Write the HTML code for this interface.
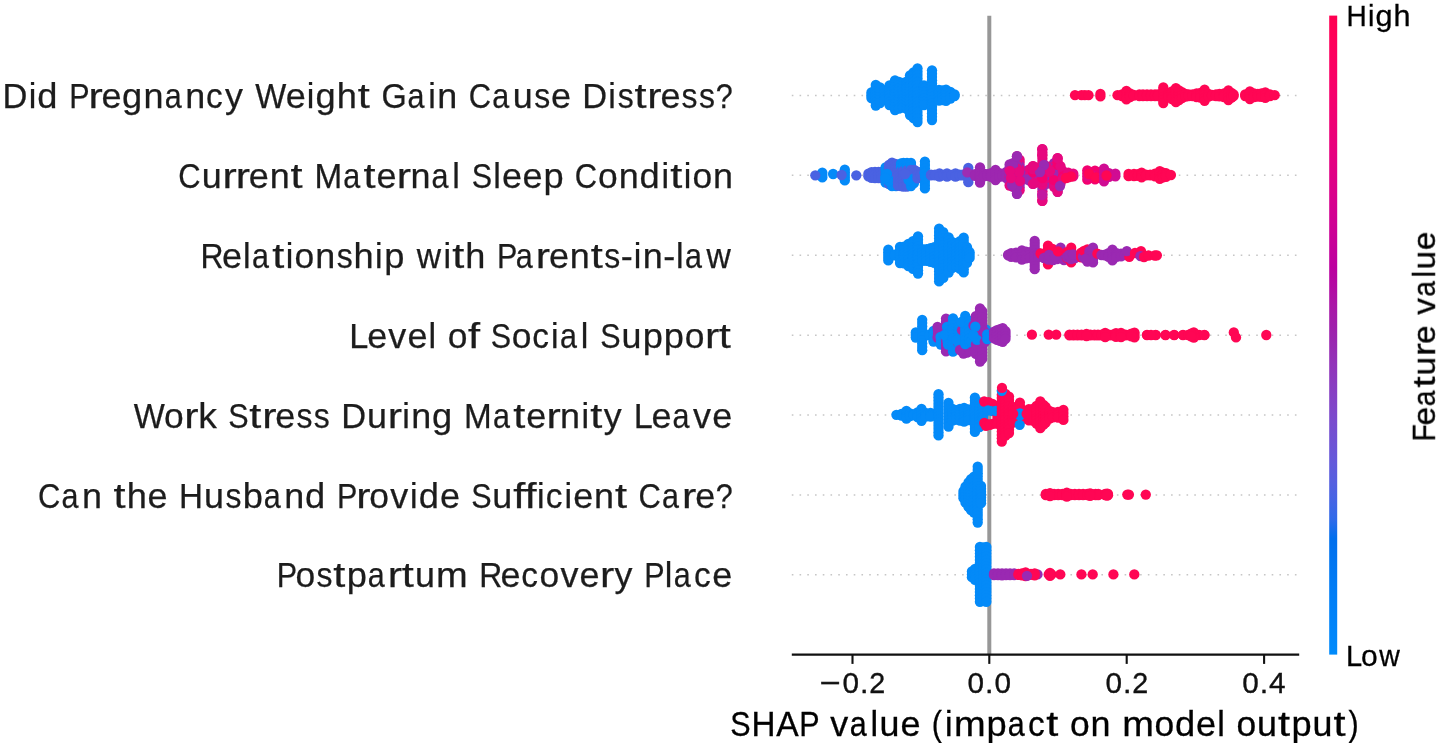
<!DOCTYPE html>
<html><head><meta charset="utf-8"><title>SHAP summary plot</title>
<style>
html,body{margin:0;padding:0;background:#fff;}
body{width:1441px;height:749px;overflow:hidden;font-family:"Liberation Sans",sans-serif;}
svg{display:block;}
svg text{font-family:"Liberation Sans",sans-serif;}
</style></head><body>
<svg width="1441" height="749" viewBox="0 0 1441 749">
<defs><linearGradient id="cb" x1="0" y1="0" x2="0" y2="1"><stop offset="0.0000" stop-color="#ff0051"/><stop offset="0.0303" stop-color="#ff0058"/><stop offset="0.0606" stop-color="#fd005f"/><stop offset="0.0909" stop-color="#fa0065"/><stop offset="0.1212" stop-color="#f6006c"/><stop offset="0.1515" stop-color="#f10072"/><stop offset="0.1818" stop-color="#ec0078"/><stop offset="0.2121" stop-color="#e7007e"/><stop offset="0.2424" stop-color="#e10084"/><stop offset="0.2727" stop-color="#db008a"/><stop offset="0.3030" stop-color="#d40090"/><stop offset="0.3333" stop-color="#cd0095"/><stop offset="0.3636" stop-color="#c5009a"/><stop offset="0.3939" stop-color="#bc009f"/><stop offset="0.4242" stop-color="#b30aa3"/><stop offset="0.4545" stop-color="#aa17a7"/><stop offset="0.4848" stop-color="#a01fab"/><stop offset="0.5152" stop-color="#9829b1"/><stop offset="0.5455" stop-color="#9233b9"/><stop offset="0.5758" stop-color="#8a3cc0"/><stop offset="0.6061" stop-color="#8244c7"/><stop offset="0.6364" stop-color="#794cce"/><stop offset="0.6667" stop-color="#6f52d4"/><stop offset="0.6970" stop-color="#6459da"/><stop offset="0.7273" stop-color="#575fdf"/><stop offset="0.7576" stop-color="#4664e4"/><stop offset="0.7879" stop-color="#306ae9"/><stop offset="0.8182" stop-color="#006fed"/><stop offset="0.8485" stop-color="#0074f0"/><stop offset="0.8788" stop-color="#0079f3"/><stop offset="0.9091" stop-color="#007ef6"/><stop offset="0.9394" stop-color="#0082f8"/><stop offset="0.9697" stop-color="#0086fa"/><stop offset="1.0000" stop-color="#008bfb"/></linearGradient></defs>
<rect width="1441" height="749" fill="#fff"/>
<g stroke="#c6c6c6" stroke-width="1.5" stroke-dasharray="1.6 6.14" fill="none"><line x1="791.8" x2="1298.5" y1="95.5" y2="95.5"/><line x1="791.8" x2="1298.5" y1="175.3" y2="175.3"/><line x1="791.8" x2="1298.5" y1="255.3" y2="255.3"/><line x1="791.8" x2="1298.5" y1="335.3" y2="335.3"/><line x1="791.8" x2="1298.5" y1="415.1" y2="415.1"/><line x1="791.8" x2="1298.5" y1="494.9" y2="494.9"/><line x1="791.8" x2="1298.5" y1="574.7" y2="574.7"/></g>
<line x1="989.3" x2="989.3" y1="15.8" y2="654.6" stroke="#979797" stroke-width="4"/>
<g id="dots">
<circle cx="871.4" cy="92.4" r="5.15" fill="#048af8"/>
<circle cx="871.4" cy="95.2" r="5.15" fill="#048af8"/>
<circle cx="871.4" cy="98.0" r="5.15" fill="#048af8"/>
<circle cx="875.8" cy="84.9" r="5.15" fill="#048af8"/>
<circle cx="875.8" cy="87.8" r="5.15" fill="#048af8"/>
<circle cx="875.8" cy="90.8" r="5.15" fill="#048af8"/>
<circle cx="875.8" cy="93.7" r="5.15" fill="#048af8"/>
<circle cx="875.8" cy="96.7" r="5.15" fill="#048af8"/>
<circle cx="875.8" cy="99.6" r="5.15" fill="#048af8"/>
<circle cx="875.8" cy="102.6" r="5.15" fill="#048af8"/>
<circle cx="875.8" cy="105.5" r="5.15" fill="#048af8"/>
<circle cx="880.0" cy="87.4" r="5.15" fill="#048af8"/>
<circle cx="880.0" cy="90.5" r="5.15" fill="#048af8"/>
<circle cx="880.0" cy="93.6" r="5.15" fill="#048af8"/>
<circle cx="880.0" cy="96.8" r="5.15" fill="#048af8"/>
<circle cx="880.0" cy="99.9" r="5.15" fill="#048af8"/>
<circle cx="880.0" cy="103.0" r="5.15" fill="#048af8"/>
<circle cx="884.3" cy="90.4" r="5.15" fill="#048af8"/>
<circle cx="884.3" cy="93.6" r="5.15" fill="#048af8"/>
<circle cx="884.3" cy="96.8" r="5.15" fill="#048af8"/>
<circle cx="884.3" cy="100.0" r="5.15" fill="#048af8"/>
<circle cx="889.5" cy="85.4" r="5.15" fill="#048af8"/>
<circle cx="889.5" cy="88.6" r="5.15" fill="#048af8"/>
<circle cx="889.5" cy="91.9" r="5.15" fill="#048af8"/>
<circle cx="889.5" cy="95.2" r="5.15" fill="#048af8"/>
<circle cx="889.5" cy="98.5" r="5.15" fill="#048af8"/>
<circle cx="889.5" cy="101.8" r="5.15" fill="#048af8"/>
<circle cx="889.5" cy="105.0" r="5.15" fill="#048af8"/>
<circle cx="895.0" cy="80.4" r="5.15" fill="#048af8"/>
<circle cx="895.0" cy="83.7" r="5.15" fill="#048af8"/>
<circle cx="895.0" cy="87.0" r="5.15" fill="#048af8"/>
<circle cx="895.0" cy="90.2" r="5.15" fill="#048af8"/>
<circle cx="895.0" cy="93.5" r="5.15" fill="#048af8"/>
<circle cx="895.0" cy="96.9" r="5.15" fill="#048af8"/>
<circle cx="895.0" cy="100.2" r="5.15" fill="#048af8"/>
<circle cx="895.0" cy="103.5" r="5.15" fill="#048af8"/>
<circle cx="895.0" cy="106.8" r="5.15" fill="#048af8"/>
<circle cx="895.0" cy="110.1" r="5.15" fill="#048af8"/>
<circle cx="899.0" cy="81.9" r="5.15" fill="#048af8"/>
<circle cx="899.0" cy="85.2" r="5.15" fill="#048af8"/>
<circle cx="899.0" cy="88.5" r="5.15" fill="#048af8"/>
<circle cx="899.0" cy="91.9" r="5.15" fill="#048af8"/>
<circle cx="899.0" cy="95.2" r="5.15" fill="#048af8"/>
<circle cx="899.0" cy="98.5" r="5.15" fill="#048af8"/>
<circle cx="899.0" cy="101.9" r="5.15" fill="#048af8"/>
<circle cx="899.0" cy="105.2" r="5.15" fill="#048af8"/>
<circle cx="899.0" cy="108.5" r="5.15" fill="#048af8"/>
<circle cx="903.0" cy="82.9" r="5.15" fill="#048af8"/>
<circle cx="903.0" cy="85.9" r="5.15" fill="#048af8"/>
<circle cx="903.0" cy="89.0" r="5.15" fill="#048af8"/>
<circle cx="903.0" cy="92.1" r="5.15" fill="#048af8"/>
<circle cx="903.0" cy="95.2" r="5.15" fill="#048af8"/>
<circle cx="903.0" cy="98.3" r="5.15" fill="#048af8"/>
<circle cx="903.0" cy="101.4" r="5.15" fill="#048af8"/>
<circle cx="903.0" cy="104.5" r="5.15" fill="#048af8"/>
<circle cx="903.0" cy="107.5" r="5.15" fill="#048af8"/>
<circle cx="907.0" cy="81.4" r="5.15" fill="#048af8"/>
<circle cx="907.0" cy="84.4" r="5.15" fill="#048af8"/>
<circle cx="907.0" cy="87.5" r="5.15" fill="#048af8"/>
<circle cx="907.0" cy="90.6" r="5.15" fill="#048af8"/>
<circle cx="907.0" cy="93.7" r="5.15" fill="#048af8"/>
<circle cx="907.0" cy="96.7" r="5.15" fill="#048af8"/>
<circle cx="907.0" cy="99.8" r="5.15" fill="#048af8"/>
<circle cx="907.0" cy="102.9" r="5.15" fill="#048af8"/>
<circle cx="907.0" cy="106.0" r="5.15" fill="#048af8"/>
<circle cx="907.0" cy="109.0" r="5.15" fill="#048af8"/>
<circle cx="910.0" cy="75.3" r="5.15" fill="#048af8"/>
<circle cx="910.0" cy="78.7" r="5.15" fill="#048af8"/>
<circle cx="910.0" cy="82.0" r="5.15" fill="#048af8"/>
<circle cx="910.0" cy="85.3" r="5.15" fill="#048af8"/>
<circle cx="910.0" cy="88.6" r="5.15" fill="#048af8"/>
<circle cx="910.0" cy="91.9" r="5.15" fill="#048af8"/>
<circle cx="910.0" cy="95.2" r="5.15" fill="#048af8"/>
<circle cx="910.0" cy="98.5" r="5.15" fill="#048af8"/>
<circle cx="910.0" cy="101.8" r="5.15" fill="#048af8"/>
<circle cx="910.0" cy="105.1" r="5.15" fill="#048af8"/>
<circle cx="910.0" cy="108.4" r="5.15" fill="#048af8"/>
<circle cx="910.0" cy="111.7" r="5.15" fill="#048af8"/>
<circle cx="910.0" cy="115.1" r="5.15" fill="#048af8"/>
<circle cx="913.5" cy="72.3" r="5.15" fill="#048af8"/>
<circle cx="913.5" cy="75.6" r="5.15" fill="#048af8"/>
<circle cx="913.5" cy="78.9" r="5.15" fill="#048af8"/>
<circle cx="913.5" cy="82.1" r="5.15" fill="#048af8"/>
<circle cx="913.5" cy="85.4" r="5.15" fill="#048af8"/>
<circle cx="913.5" cy="88.7" r="5.15" fill="#048af8"/>
<circle cx="913.5" cy="91.9" r="5.15" fill="#048af8"/>
<circle cx="913.5" cy="95.2" r="5.15" fill="#048af8"/>
<circle cx="913.5" cy="98.5" r="5.15" fill="#048af8"/>
<circle cx="913.5" cy="101.7" r="5.15" fill="#048af8"/>
<circle cx="913.5" cy="105.0" r="5.15" fill="#048af8"/>
<circle cx="913.5" cy="108.3" r="5.15" fill="#048af8"/>
<circle cx="913.5" cy="111.5" r="5.15" fill="#048af8"/>
<circle cx="913.5" cy="114.8" r="5.15" fill="#048af8"/>
<circle cx="913.5" cy="118.1" r="5.15" fill="#048af8"/>
<circle cx="917.5" cy="68.3" r="5.15" fill="#048af8"/>
<circle cx="917.5" cy="71.7" r="5.15" fill="#048af8"/>
<circle cx="917.5" cy="75.1" r="5.15" fill="#048af8"/>
<circle cx="917.5" cy="78.4" r="5.15" fill="#048af8"/>
<circle cx="917.5" cy="81.8" r="5.15" fill="#048af8"/>
<circle cx="917.5" cy="85.1" r="5.15" fill="#048af8"/>
<circle cx="917.5" cy="88.5" r="5.15" fill="#048af8"/>
<circle cx="917.5" cy="91.8" r="5.15" fill="#048af8"/>
<circle cx="917.5" cy="95.2" r="5.15" fill="#048af8"/>
<circle cx="917.5" cy="98.6" r="5.15" fill="#048af8"/>
<circle cx="917.5" cy="101.9" r="5.15" fill="#048af8"/>
<circle cx="917.5" cy="105.3" r="5.15" fill="#048af8"/>
<circle cx="917.5" cy="108.6" r="5.15" fill="#048af8"/>
<circle cx="917.5" cy="112.0" r="5.15" fill="#048af8"/>
<circle cx="917.5" cy="115.3" r="5.15" fill="#048af8"/>
<circle cx="917.5" cy="118.7" r="5.15" fill="#048af8"/>
<circle cx="917.5" cy="122.1" r="5.15" fill="#048af8"/>
<circle cx="924.0" cy="85.4" r="5.15" fill="#048af8"/>
<circle cx="924.0" cy="88.6" r="5.15" fill="#048af8"/>
<circle cx="924.0" cy="91.9" r="5.15" fill="#048af8"/>
<circle cx="924.0" cy="95.2" r="5.15" fill="#048af8"/>
<circle cx="924.0" cy="98.5" r="5.15" fill="#048af8"/>
<circle cx="924.0" cy="101.8" r="5.15" fill="#048af8"/>
<circle cx="924.0" cy="105.0" r="5.15" fill="#048af8"/>
<circle cx="932.0" cy="70.3" r="5.15" fill="#048af8"/>
<circle cx="932.0" cy="73.7" r="5.15" fill="#048af8"/>
<circle cx="932.0" cy="77.0" r="5.15" fill="#048af8"/>
<circle cx="932.0" cy="80.3" r="5.15" fill="#048af8"/>
<circle cx="932.0" cy="83.6" r="5.15" fill="#048af8"/>
<circle cx="932.0" cy="86.9" r="5.15" fill="#048af8"/>
<circle cx="932.0" cy="90.2" r="5.15" fill="#048af8"/>
<circle cx="932.0" cy="93.5" r="5.15" fill="#048af8"/>
<circle cx="932.0" cy="96.9" r="5.15" fill="#048af8"/>
<circle cx="932.0" cy="100.2" r="5.15" fill="#048af8"/>
<circle cx="932.0" cy="103.5" r="5.15" fill="#048af8"/>
<circle cx="932.0" cy="106.8" r="5.15" fill="#048af8"/>
<circle cx="932.0" cy="110.1" r="5.15" fill="#048af8"/>
<circle cx="932.0" cy="113.4" r="5.15" fill="#048af8"/>
<circle cx="932.0" cy="116.7" r="5.15" fill="#048af8"/>
<circle cx="932.0" cy="120.1" r="5.15" fill="#048af8"/>
<circle cx="939.0" cy="89.9" r="5.15" fill="#048af8"/>
<circle cx="939.0" cy="92.5" r="5.15" fill="#048af8"/>
<circle cx="939.0" cy="95.2" r="5.15" fill="#048af8"/>
<circle cx="939.0" cy="97.9" r="5.15" fill="#048af8"/>
<circle cx="939.0" cy="100.5" r="5.15" fill="#048af8"/>
<circle cx="942.5" cy="90.4" r="5.15" fill="#048af8"/>
<circle cx="942.5" cy="93.6" r="5.15" fill="#048af8"/>
<circle cx="942.5" cy="96.8" r="5.15" fill="#048af8"/>
<circle cx="942.5" cy="100.0" r="5.15" fill="#048af8"/>
<circle cx="946.0" cy="89.7" r="5.15" fill="#048af8"/>
<circle cx="946.0" cy="92.4" r="5.15" fill="#048af8"/>
<circle cx="946.0" cy="95.2" r="5.15" fill="#048af8"/>
<circle cx="946.0" cy="98.0" r="5.15" fill="#048af8"/>
<circle cx="946.0" cy="100.8" r="5.15" fill="#048af8"/>
<circle cx="950.4" cy="91.9" r="5.15" fill="#048af8"/>
<circle cx="950.4" cy="95.2" r="5.15" fill="#048af8"/>
<circle cx="950.4" cy="98.5" r="5.15" fill="#048af8"/>
<circle cx="954.6" cy="94.4" r="5.15" fill="#048af8"/>
<circle cx="954.6" cy="96.0" r="5.15" fill="#048af8"/>
<circle cx="1075.0" cy="95.2" r="5.15" fill="#ff0654"/>
<circle cx="1081.5" cy="95.2" r="5.15" fill="#ff0654"/>
<circle cx="1084.8" cy="95.2" r="5.15" fill="#ff0654"/>
<circle cx="1088.5" cy="95.2" r="5.15" fill="#ff0654"/>
<circle cx="1100.4" cy="94.0" r="5.15" fill="#ff0654"/>
<circle cx="1100.4" cy="96.4" r="5.15" fill="#ff0654"/>
<circle cx="1117.5" cy="95.2" r="5.15" fill="#ff0654"/>
<circle cx="1122.0" cy="94.4" r="5.15" fill="#ff0654"/>
<circle cx="1122.0" cy="96.0" r="5.15" fill="#ff0654"/>
<circle cx="1126.4" cy="91.0" r="5.15" fill="#ff0654"/>
<circle cx="1126.4" cy="93.8" r="5.15" fill="#ff0654"/>
<circle cx="1126.4" cy="96.6" r="5.15" fill="#ff0654"/>
<circle cx="1126.4" cy="99.4" r="5.15" fill="#ff0654"/>
<circle cx="1130.0" cy="93.4" r="5.15" fill="#ff0654"/>
<circle cx="1130.0" cy="95.2" r="5.15" fill="#ff0654"/>
<circle cx="1130.0" cy="97.0" r="5.15" fill="#ff0654"/>
<circle cx="1133.8" cy="94.8" r="5.15" fill="#ff0654"/>
<circle cx="1133.8" cy="95.7" r="5.15" fill="#ff0654"/>
<circle cx="1139.4" cy="94.4" r="5.15" fill="#ff0654"/>
<circle cx="1139.4" cy="96.0" r="5.15" fill="#ff0654"/>
<circle cx="1143.0" cy="94.4" r="5.15" fill="#ff0654"/>
<circle cx="1143.0" cy="96.0" r="5.15" fill="#ff0654"/>
<circle cx="1147.0" cy="94.4" r="5.15" fill="#ff0654"/>
<circle cx="1147.0" cy="96.0" r="5.15" fill="#ff0654"/>
<circle cx="1151.0" cy="94.4" r="5.15" fill="#ff0654"/>
<circle cx="1151.0" cy="96.0" r="5.15" fill="#ff0654"/>
<circle cx="1155.0" cy="94.4" r="5.15" fill="#ff0654"/>
<circle cx="1155.0" cy="96.0" r="5.15" fill="#ff0654"/>
<circle cx="1158.0" cy="94.4" r="5.15" fill="#ff0654"/>
<circle cx="1158.0" cy="96.0" r="5.15" fill="#ff0654"/>
<circle cx="1163.3" cy="87.4" r="5.15" fill="#ff0654"/>
<circle cx="1163.3" cy="90.5" r="5.15" fill="#ff0654"/>
<circle cx="1163.3" cy="93.6" r="5.15" fill="#ff0654"/>
<circle cx="1163.3" cy="96.8" r="5.15" fill="#ff0654"/>
<circle cx="1163.3" cy="99.9" r="5.15" fill="#ff0654"/>
<circle cx="1163.3" cy="103.0" r="5.15" fill="#ff0654"/>
<circle cx="1168.4" cy="93.4" r="5.15" fill="#ff0654"/>
<circle cx="1168.4" cy="95.2" r="5.15" fill="#ff0654"/>
<circle cx="1168.4" cy="97.0" r="5.15" fill="#ff0654"/>
<circle cx="1172.0" cy="91.4" r="5.15" fill="#ff0654"/>
<circle cx="1172.0" cy="93.9" r="5.15" fill="#ff0654"/>
<circle cx="1172.0" cy="96.5" r="5.15" fill="#ff0654"/>
<circle cx="1172.0" cy="99.0" r="5.15" fill="#ff0654"/>
<circle cx="1175.9" cy="88.2" r="5.15" fill="#ff0654"/>
<circle cx="1175.9" cy="91.0" r="5.15" fill="#ff0654"/>
<circle cx="1175.9" cy="93.8" r="5.15" fill="#ff0654"/>
<circle cx="1175.9" cy="96.6" r="5.15" fill="#ff0654"/>
<circle cx="1175.9" cy="99.4" r="5.15" fill="#ff0654"/>
<circle cx="1175.9" cy="102.2" r="5.15" fill="#ff0654"/>
<circle cx="1179.0" cy="90.4" r="5.15" fill="#ff0654"/>
<circle cx="1179.0" cy="93.6" r="5.15" fill="#ff0654"/>
<circle cx="1179.0" cy="96.8" r="5.15" fill="#ff0654"/>
<circle cx="1179.0" cy="100.0" r="5.15" fill="#ff0654"/>
<circle cx="1182.0" cy="92.2" r="5.15" fill="#ff0654"/>
<circle cx="1182.0" cy="95.2" r="5.15" fill="#ff0654"/>
<circle cx="1182.0" cy="98.2" r="5.15" fill="#ff0654"/>
<circle cx="1185.5" cy="93.9" r="5.15" fill="#ff0654"/>
<circle cx="1185.5" cy="96.5" r="5.15" fill="#ff0654"/>
<circle cx="1188.7" cy="94.4" r="5.15" fill="#ff0654"/>
<circle cx="1188.7" cy="96.0" r="5.15" fill="#ff0654"/>
<circle cx="1192.5" cy="94.4" r="5.15" fill="#ff0654"/>
<circle cx="1192.5" cy="96.0" r="5.15" fill="#ff0654"/>
<circle cx="1196.6" cy="93.4" r="5.15" fill="#ff0654"/>
<circle cx="1196.6" cy="95.2" r="5.15" fill="#ff0654"/>
<circle cx="1196.6" cy="97.0" r="5.15" fill="#ff0654"/>
<circle cx="1200.5" cy="92.9" r="5.15" fill="#ff0654"/>
<circle cx="1200.5" cy="95.2" r="5.15" fill="#ff0654"/>
<circle cx="1200.5" cy="97.5" r="5.15" fill="#ff0654"/>
<circle cx="1204.6" cy="89.7" r="5.15" fill="#ff0654"/>
<circle cx="1204.6" cy="92.4" r="5.15" fill="#ff0654"/>
<circle cx="1204.6" cy="95.2" r="5.15" fill="#ff0654"/>
<circle cx="1204.6" cy="98.0" r="5.15" fill="#ff0654"/>
<circle cx="1204.6" cy="100.8" r="5.15" fill="#ff0654"/>
<circle cx="1208.5" cy="93.9" r="5.15" fill="#ff0654"/>
<circle cx="1208.5" cy="96.5" r="5.15" fill="#ff0654"/>
<circle cx="1212.0" cy="94.8" r="5.15" fill="#ff0654"/>
<circle cx="1212.0" cy="95.7" r="5.15" fill="#ff0654"/>
<circle cx="1216.0" cy="94.4" r="5.15" fill="#ff0654"/>
<circle cx="1216.0" cy="96.0" r="5.15" fill="#ff0654"/>
<circle cx="1219.5" cy="94.0" r="5.15" fill="#ff0654"/>
<circle cx="1219.5" cy="96.4" r="5.15" fill="#ff0654"/>
<circle cx="1224.0" cy="93.4" r="5.15" fill="#ff0654"/>
<circle cx="1224.0" cy="95.2" r="5.15" fill="#ff0654"/>
<circle cx="1224.0" cy="97.0" r="5.15" fill="#ff0654"/>
<circle cx="1228.4" cy="90.4" r="5.15" fill="#ff0654"/>
<circle cx="1228.4" cy="93.6" r="5.15" fill="#ff0654"/>
<circle cx="1228.4" cy="96.8" r="5.15" fill="#ff0654"/>
<circle cx="1228.4" cy="100.0" r="5.15" fill="#ff0654"/>
<circle cx="1231.5" cy="92.9" r="5.15" fill="#ff0654"/>
<circle cx="1231.5" cy="95.2" r="5.15" fill="#ff0654"/>
<circle cx="1231.5" cy="97.5" r="5.15" fill="#ff0654"/>
<circle cx="1233.6" cy="94.4" r="5.15" fill="#ff0654"/>
<circle cx="1233.6" cy="96.0" r="5.15" fill="#ff0654"/>
<circle cx="1245.2" cy="94.4" r="5.15" fill="#ff0654"/>
<circle cx="1245.2" cy="96.0" r="5.15" fill="#ff0654"/>
<circle cx="1249.9" cy="91.4" r="5.15" fill="#ff0654"/>
<circle cx="1249.9" cy="93.9" r="5.15" fill="#ff0654"/>
<circle cx="1249.9" cy="96.5" r="5.15" fill="#ff0654"/>
<circle cx="1249.9" cy="99.0" r="5.15" fill="#ff0654"/>
<circle cx="1254.0" cy="93.4" r="5.15" fill="#ff0654"/>
<circle cx="1254.0" cy="95.2" r="5.15" fill="#ff0654"/>
<circle cx="1254.0" cy="97.0" r="5.15" fill="#ff0654"/>
<circle cx="1257.9" cy="93.9" r="5.15" fill="#ff0654"/>
<circle cx="1257.9" cy="96.5" r="5.15" fill="#ff0654"/>
<circle cx="1261.5" cy="93.5" r="5.15" fill="#ff0654"/>
<circle cx="1261.5" cy="96.9" r="5.15" fill="#ff0654"/>
<circle cx="1265.3" cy="92.5" r="5.15" fill="#ff0654"/>
<circle cx="1265.3" cy="95.2" r="5.15" fill="#ff0654"/>
<circle cx="1265.3" cy="97.9" r="5.15" fill="#ff0654"/>
<circle cx="1270.0" cy="94.4" r="5.15" fill="#ff0654"/>
<circle cx="1270.0" cy="96.0" r="5.15" fill="#ff0654"/>
<circle cx="1274.7" cy="95.2" r="5.15" fill="#ff0654"/>
<circle cx="822.3" cy="172.6" r="5.15" fill="#048af8"/>
<circle cx="822.3" cy="175.0" r="5.15" fill="#048af8"/>
<circle cx="822.3" cy="177.4" r="5.15" fill="#048af8"/>
<circle cx="844.8" cy="169.6" r="5.15" fill="#048af8"/>
<circle cx="844.8" cy="172.3" r="5.15" fill="#048af8"/>
<circle cx="844.8" cy="175.0" r="5.15" fill="#048af8"/>
<circle cx="844.8" cy="177.7" r="5.15" fill="#048af8"/>
<circle cx="844.8" cy="180.4" r="5.15" fill="#048af8"/>
<circle cx="833.1" cy="174.0" r="5.15" fill="#048af8"/>
<circle cx="815.3" cy="175.3" r="5.15" fill="#4a62e2"/>
<circle cx="841.6" cy="175.0" r="5.15" fill="#4a62e2"/>
<circle cx="856.3" cy="175.3" r="5.15" fill="#4a62e2"/>
<circle cx="868.4" cy="173.7" r="5.15" fill="#4a62e2"/>
<circle cx="868.4" cy="176.3" r="5.15" fill="#4a62e2"/>
<circle cx="871.5" cy="172.2" r="5.15" fill="#4a62e2"/>
<circle cx="871.5" cy="175.0" r="5.15" fill="#4a62e2"/>
<circle cx="871.5" cy="177.8" r="5.15" fill="#4a62e2"/>
<circle cx="875.0" cy="171.9" r="5.15" fill="#4a62e2"/>
<circle cx="875.0" cy="175.0" r="5.15" fill="#4a62e2"/>
<circle cx="875.0" cy="178.1" r="5.15" fill="#4a62e2"/>
<circle cx="878.5" cy="171.9" r="5.15" fill="#4a62e2"/>
<circle cx="878.5" cy="175.0" r="5.15" fill="#4a62e2"/>
<circle cx="878.5" cy="178.1" r="5.15" fill="#4a62e2"/>
<circle cx="881.5" cy="171.9" r="5.15" fill="#4a62e2"/>
<circle cx="881.5" cy="175.0" r="5.15" fill="#4a62e2"/>
<circle cx="881.5" cy="178.1" r="5.15" fill="#4a62e2"/>
<circle cx="885.6" cy="167.3" r="5.15" fill="#048af8"/>
<circle cx="885.6" cy="170.4" r="5.15" fill="#048af8"/>
<circle cx="885.6" cy="173.5" r="5.15" fill="#048af8"/>
<circle cx="885.6" cy="176.5" r="5.15" fill="#048af8"/>
<circle cx="885.6" cy="179.6" r="5.15" fill="#048af8"/>
<circle cx="885.6" cy="182.7" r="5.15" fill="#048af8"/>
<circle cx="889.0" cy="165.0" r="5.15" fill="#4a62e2"/>
<circle cx="889.0" cy="168.2" r="5.15" fill="#4a62e2"/>
<circle cx="889.0" cy="171.3" r="5.15" fill="#4a62e2"/>
<circle cx="889.0" cy="174.5" r="5.15" fill="#4a62e2"/>
<circle cx="889.0" cy="177.7" r="5.15" fill="#4a62e2"/>
<circle cx="889.0" cy="180.8" r="5.15" fill="#4a62e2"/>
<circle cx="889.0" cy="184.0" r="5.15" fill="#4a62e2"/>
<circle cx="892.0" cy="162.6" r="5.15" fill="#4a62e2"/>
<circle cx="892.0" cy="165.9" r="5.15" fill="#4a62e2"/>
<circle cx="892.0" cy="169.2" r="5.15" fill="#4a62e2"/>
<circle cx="892.0" cy="172.4" r="5.15" fill="#4a62e2"/>
<circle cx="892.0" cy="175.7" r="5.15" fill="#4a62e2"/>
<circle cx="892.0" cy="179.0" r="5.15" fill="#4a62e2"/>
<circle cx="892.0" cy="181.0" r="5.15" fill="#048af8"/>
<circle cx="892.0" cy="183.5" r="5.15" fill="#048af8"/>
<circle cx="892.0" cy="186.0" r="5.15" fill="#048af8"/>
<circle cx="895.5" cy="164.0" r="5.15" fill="#4a62e2"/>
<circle cx="895.5" cy="166.8" r="5.15" fill="#4a62e2"/>
<circle cx="895.5" cy="169.6" r="5.15" fill="#4a62e2"/>
<circle cx="895.5" cy="172.4" r="5.15" fill="#4a62e2"/>
<circle cx="895.5" cy="175.2" r="5.15" fill="#4a62e2"/>
<circle cx="895.5" cy="178.0" r="5.15" fill="#4a62e2"/>
<circle cx="896.0" cy="180.0" r="5.15" fill="#048af8"/>
<circle cx="896.0" cy="183.0" r="5.15" fill="#048af8"/>
<circle cx="896.0" cy="186.0" r="5.15" fill="#048af8"/>
<circle cx="888.5" cy="181.0" r="5.15" fill="#048af8"/>
<circle cx="887.0" cy="174.0" r="5.15" fill="#048af8"/>
<circle cx="885.2" cy="178.0" r="5.15" fill="#048af8"/>
<circle cx="898.0" cy="169.5" r="5.15" fill="#4a62e2"/>
<circle cx="898.0" cy="172.7" r="5.15" fill="#4a62e2"/>
<circle cx="898.0" cy="175.9" r="5.15" fill="#4a62e2"/>
<circle cx="898.0" cy="179.1" r="5.15" fill="#4a62e2"/>
<circle cx="898.0" cy="182.3" r="5.15" fill="#4a62e2"/>
<circle cx="898.0" cy="185.5" r="5.15" fill="#4a62e2"/>
<circle cx="901.0" cy="163.5" r="5.15" fill="#048af8"/>
<circle cx="901.0" cy="165.8" r="5.15" fill="#048af8"/>
<circle cx="901.0" cy="168.0" r="5.15" fill="#048af8"/>
<circle cx="901.0" cy="171.0" r="5.15" fill="#4a62e2"/>
<circle cx="901.0" cy="174.0" r="5.15" fill="#4a62e2"/>
<circle cx="901.0" cy="177.0" r="5.15" fill="#4a62e2"/>
<circle cx="901.0" cy="180.0" r="5.15" fill="#4a62e2"/>
<circle cx="901.0" cy="183.0" r="5.15" fill="#4a62e2"/>
<circle cx="901.0" cy="186.0" r="5.15" fill="#4a62e2"/>
<circle cx="903.5" cy="163.0" r="5.15" fill="#048af8"/>
<circle cx="903.5" cy="165.5" r="5.15" fill="#048af8"/>
<circle cx="903.5" cy="168.0" r="5.15" fill="#048af8"/>
<circle cx="903.5" cy="171.0" r="5.15" fill="#4a62e2"/>
<circle cx="903.5" cy="174.1" r="5.15" fill="#4a62e2"/>
<circle cx="903.5" cy="177.2" r="5.15" fill="#4a62e2"/>
<circle cx="903.5" cy="180.3" r="5.15" fill="#4a62e2"/>
<circle cx="903.5" cy="183.4" r="5.15" fill="#4a62e2"/>
<circle cx="903.5" cy="186.5" r="5.15" fill="#4a62e2"/>
<circle cx="907.0" cy="163.0" r="5.15" fill="#048af8"/>
<circle cx="907.0" cy="165.2" r="5.15" fill="#048af8"/>
<circle cx="907.0" cy="167.5" r="5.15" fill="#048af8"/>
<circle cx="907.0" cy="170.5" r="5.15" fill="#4a62e2"/>
<circle cx="907.0" cy="173.7" r="5.15" fill="#4a62e2"/>
<circle cx="907.0" cy="176.9" r="5.15" fill="#4a62e2"/>
<circle cx="907.0" cy="180.1" r="5.15" fill="#4a62e2"/>
<circle cx="907.0" cy="183.3" r="5.15" fill="#4a62e2"/>
<circle cx="907.0" cy="186.5" r="5.15" fill="#4a62e2"/>
<circle cx="911.0" cy="163.0" r="5.15" fill="#048af8"/>
<circle cx="911.0" cy="165.0" r="5.15" fill="#048af8"/>
<circle cx="911.0" cy="167.0" r="5.15" fill="#048af8"/>
<circle cx="911.0" cy="170.0" r="5.15" fill="#4a62e2"/>
<circle cx="911.0" cy="173.0" r="5.15" fill="#4a62e2"/>
<circle cx="911.0" cy="176.0" r="5.15" fill="#4a62e2"/>
<circle cx="911.0" cy="178.0" r="5.15" fill="#048af8"/>
<circle cx="911.0" cy="180.7" r="5.15" fill="#048af8"/>
<circle cx="911.0" cy="183.3" r="5.15" fill="#048af8"/>
<circle cx="911.0" cy="186.0" r="5.15" fill="#048af8"/>
<circle cx="914.3" cy="170.0" r="5.15" fill="#4a62e2"/>
<circle cx="914.3" cy="173.2" r="5.15" fill="#4a62e2"/>
<circle cx="914.3" cy="176.5" r="5.15" fill="#4a62e2"/>
<circle cx="914.0" cy="178.5" r="5.15" fill="#048af8"/>
<circle cx="914.0" cy="180.8" r="5.15" fill="#048af8"/>
<circle cx="914.0" cy="183.0" r="5.15" fill="#048af8"/>
<circle cx="908.5" cy="180.0" r="5.15" fill="#048af8"/>
<circle cx="905.0" cy="174.0" r="5.15" fill="#4a62e2"/>
<circle cx="917.5" cy="171.7" r="5.15" fill="#4a62e2"/>
<circle cx="917.5" cy="175.0" r="5.15" fill="#4a62e2"/>
<circle cx="917.5" cy="178.3" r="5.15" fill="#4a62e2"/>
<circle cx="924.9" cy="161.6" r="5.15" fill="#048af8"/>
<circle cx="924.9" cy="164.9" r="5.15" fill="#048af8"/>
<circle cx="924.9" cy="168.3" r="5.15" fill="#048af8"/>
<circle cx="924.9" cy="171.6" r="5.15" fill="#048af8"/>
<circle cx="924.9" cy="175.0" r="5.15" fill="#048af8"/>
<circle cx="924.9" cy="178.4" r="5.15" fill="#048af8"/>
<circle cx="924.9" cy="181.7" r="5.15" fill="#048af8"/>
<circle cx="924.9" cy="185.1" r="5.15" fill="#048af8"/>
<circle cx="924.9" cy="188.4" r="5.15" fill="#048af8"/>
<circle cx="920.8" cy="175.0" r="5.15" fill="#4a62e2"/>
<circle cx="929.0" cy="175.0" r="5.15" fill="#4a62e2"/>
<circle cx="924.5" cy="173.0" r="5.15" fill="#048af8"/>
<circle cx="925.0" cy="177.0" r="5.15" fill="#048af8"/>
<circle cx="931.0" cy="174.7" r="5.15" fill="#4a62e2"/>
<circle cx="931.0" cy="175.3" r="5.15" fill="#4a62e2"/>
<circle cx="935.0" cy="174.7" r="5.15" fill="#4a62e2"/>
<circle cx="935.0" cy="175.3" r="5.15" fill="#4a62e2"/>
<circle cx="939.5" cy="173.3" r="5.15" fill="#4a62e2"/>
<circle cx="939.5" cy="176.7" r="5.15" fill="#4a62e2"/>
<circle cx="943.5" cy="174.8" r="5.15" fill="#4a62e2"/>
<circle cx="943.5" cy="175.2" r="5.15" fill="#4a62e2"/>
<circle cx="947.0" cy="173.3" r="5.15" fill="#4a62e2"/>
<circle cx="947.0" cy="176.7" r="5.15" fill="#4a62e2"/>
<circle cx="951.5" cy="174.8" r="5.15" fill="#4a62e2"/>
<circle cx="951.5" cy="175.2" r="5.15" fill="#4a62e2"/>
<circle cx="955.5" cy="173.3" r="5.15" fill="#4a62e2"/>
<circle cx="955.5" cy="176.7" r="5.15" fill="#4a62e2"/>
<circle cx="959.5" cy="174.7" r="5.15" fill="#4a62e2"/>
<circle cx="959.5" cy="175.3" r="5.15" fill="#4a62e2"/>
<circle cx="962.5" cy="174.7" r="5.15" fill="#4a62e2"/>
<circle cx="962.5" cy="175.3" r="5.15" fill="#4a62e2"/>
<circle cx="968.3" cy="167.8" r="5.15" fill="#4a62e2"/>
<circle cx="968.3" cy="170.7" r="5.15" fill="#4a62e2"/>
<circle cx="968.3" cy="173.6" r="5.15" fill="#4a62e2"/>
<circle cx="968.3" cy="176.4" r="5.15" fill="#4a62e2"/>
<circle cx="968.3" cy="179.3" r="5.15" fill="#4a62e2"/>
<circle cx="968.3" cy="182.2" r="5.15" fill="#4a62e2"/>
<circle cx="967.3" cy="172.4" r="5.15" fill="#9c2db3"/>
<circle cx="975.0" cy="174.2" r="5.15" fill="#9d27b0"/>
<circle cx="975.0" cy="175.8" r="5.15" fill="#9d27b0"/>
<circle cx="980.0" cy="167.3" r="5.15" fill="#9d27b0"/>
<circle cx="980.0" cy="170.4" r="5.15" fill="#9d27b0"/>
<circle cx="980.0" cy="173.5" r="5.15" fill="#9d27b0"/>
<circle cx="980.0" cy="176.5" r="5.15" fill="#9d27b0"/>
<circle cx="980.0" cy="179.6" r="5.15" fill="#9d27b0"/>
<circle cx="980.0" cy="182.7" r="5.15" fill="#9d27b0"/>
<circle cx="984.0" cy="173.7" r="5.15" fill="#9d27b0"/>
<circle cx="984.0" cy="176.3" r="5.15" fill="#9d27b0"/>
<circle cx="987.5" cy="174.2" r="5.15" fill="#9d27b0"/>
<circle cx="987.5" cy="175.8" r="5.15" fill="#9d27b0"/>
<circle cx="991.0" cy="173.2" r="5.15" fill="#9d27b0"/>
<circle cx="991.0" cy="175.0" r="5.15" fill="#9d27b0"/>
<circle cx="991.0" cy="176.8" r="5.15" fill="#9d27b0"/>
<circle cx="995.5" cy="169.8" r="5.15" fill="#9d27b0"/>
<circle cx="995.5" cy="172.4" r="5.15" fill="#9d27b0"/>
<circle cx="995.5" cy="175.0" r="5.15" fill="#9d27b0"/>
<circle cx="995.5" cy="177.6" r="5.15" fill="#9d27b0"/>
<circle cx="995.5" cy="180.2" r="5.15" fill="#9d27b0"/>
<circle cx="999.5" cy="173.2" r="5.15" fill="#9d27b0"/>
<circle cx="999.5" cy="175.0" r="5.15" fill="#9d27b0"/>
<circle cx="999.5" cy="176.8" r="5.15" fill="#9d27b0"/>
<circle cx="1002.5" cy="174.2" r="5.15" fill="#9d27b0"/>
<circle cx="1002.5" cy="175.8" r="5.15" fill="#9d27b0"/>
<circle cx="1006.0" cy="172.2" r="5.15" fill="#9d27b0"/>
<circle cx="1006.0" cy="175.0" r="5.15" fill="#9d27b0"/>
<circle cx="1006.0" cy="177.8" r="5.15" fill="#9d27b0"/>
<circle cx="1017.0" cy="193.8" r="5.15" fill="#9d27b0"/>
<circle cx="1009.6" cy="176.5" r="5.15" fill="#e6087f"/>
<circle cx="1042.4" cy="175.0" r="5.15" fill="#e6087f"/>
<circle cx="1030.0" cy="172.1" r="5.15" fill="#9d27b0"/>
<circle cx="1030.0" cy="177.9" r="5.15" fill="#e6087f"/>
<circle cx="1019.6" cy="181.1" r="5.15" fill="#e6087f"/>
<circle cx="1057.6" cy="191.8" r="5.15" fill="#9d27b0"/>
<circle cx="1019.6" cy="184.2" r="5.15" fill="#9d27b0"/>
<circle cx="1050.0" cy="179.1" r="5.15" fill="#e6087f"/>
<circle cx="1042.4" cy="191.2" r="5.15" fill="#e6087f"/>
<circle cx="1057.6" cy="168.3" r="5.15" fill="#9d27b0"/>
<circle cx="1042.4" cy="152.4" r="5.15" fill="#e6087f"/>
<circle cx="1054.0" cy="173.3" r="5.15" fill="#f30070"/>
<circle cx="1042.4" cy="158.8" r="5.15" fill="#e6087f"/>
<circle cx="1017.0" cy="190.7" r="5.15" fill="#e6087f"/>
<circle cx="1033.0" cy="177.9" r="5.15" fill="#e6087f"/>
<circle cx="1019.6" cy="159.7" r="5.15" fill="#e6087f"/>
<circle cx="1068.3" cy="177.3" r="5.15" fill="#e6087f"/>
<circle cx="1068.3" cy="175.0" r="5.15" fill="#e6087f"/>
<circle cx="1042.4" cy="155.6" r="5.15" fill="#f30070"/>
<circle cx="1060.5" cy="175.0" r="5.15" fill="#f30070"/>
<circle cx="1042.4" cy="171.8" r="5.15" fill="#e6087f"/>
<circle cx="1060.5" cy="172.1" r="5.15" fill="#e6087f"/>
<circle cx="1057.6" cy="158.2" r="5.15" fill="#e6087f"/>
<circle cx="1037.0" cy="170.6" r="5.15" fill="#e6087f"/>
<circle cx="1042.4" cy="187.9" r="5.15" fill="#9d27b0"/>
<circle cx="1013.0" cy="173.3" r="5.15" fill="#9d27b0"/>
<circle cx="1050.0" cy="181.8" r="5.15" fill="#f30070"/>
<circle cx="1019.6" cy="178.1" r="5.15" fill="#9d27b0"/>
<circle cx="1057.6" cy="175.0" r="5.15" fill="#9d27b0"/>
<circle cx="1060.5" cy="169.1" r="5.15" fill="#e6087f"/>
<circle cx="1019.6" cy="162.7" r="5.15" fill="#e6087f"/>
<circle cx="1017.0" cy="159.3" r="5.15" fill="#e6087f"/>
<circle cx="1054.0" cy="163.2" r="5.15" fill="#9d27b0"/>
<circle cx="1009.6" cy="167.5" r="5.15" fill="#9d27b0"/>
<circle cx="1033.0" cy="175.0" r="5.15" fill="#e6087f"/>
<circle cx="1019.6" cy="165.8" r="5.15" fill="#9d27b0"/>
<circle cx="1046.5" cy="183.8" r="5.15" fill="#9d27b0"/>
<circle cx="1026.7" cy="176.5" r="5.15" fill="#9a29b2"/>
<circle cx="1037.0" cy="173.5" r="5.15" fill="#9d27b0"/>
<circle cx="1017.0" cy="184.4" r="5.15" fill="#9d27b0"/>
<circle cx="1046.5" cy="180.9" r="5.15" fill="#9d27b0"/>
<circle cx="1054.0" cy="186.8" r="5.15" fill="#e6087f"/>
<circle cx="1054.0" cy="166.5" r="5.15" fill="#e6087f"/>
<circle cx="1063.0" cy="173.7" r="5.15" fill="#9d27b0"/>
<circle cx="1026.7" cy="170.6" r="5.15" fill="#9a29b2"/>
<circle cx="1017.0" cy="171.9" r="5.15" fill="#9d27b0"/>
<circle cx="1050.0" cy="176.4" r="5.15" fill="#9d27b0"/>
<circle cx="1060.5" cy="177.9" r="5.15" fill="#e6087f"/>
<circle cx="1019.6" cy="175.0" r="5.15" fill="#9d27b0"/>
<circle cx="1046.5" cy="177.9" r="5.15" fill="#e6087f"/>
<circle cx="1033.0" cy="166.2" r="5.15" fill="#e6087f"/>
<circle cx="1017.0" cy="175.0" r="5.15" fill="#e6087f"/>
<circle cx="1073.3" cy="173.7" r="5.15" fill="#e6087f"/>
<circle cx="1017.0" cy="178.1" r="5.15" fill="#9d27b0"/>
<circle cx="1042.4" cy="184.7" r="5.15" fill="#e6087f"/>
<circle cx="1017.0" cy="156.2" r="5.15" fill="#e6087f"/>
<circle cx="1033.0" cy="180.9" r="5.15" fill="#f30070"/>
<circle cx="1050.0" cy="173.6" r="5.15" fill="#9d27b0"/>
<circle cx="1009.6" cy="179.5" r="5.15" fill="#9d27b0"/>
<circle cx="1033.0" cy="183.8" r="5.15" fill="#9d27b0"/>
<circle cx="1026.7" cy="173.5" r="5.15" fill="#9a29b2"/>
<circle cx="1046.5" cy="175.0" r="5.15" fill="#9d27b0"/>
<circle cx="1019.6" cy="187.3" r="5.15" fill="#9d27b0"/>
<circle cx="1054.0" cy="176.7" r="5.15" fill="#e6087f"/>
<circle cx="1057.6" cy="178.4" r="5.15" fill="#9d27b0"/>
<circle cx="1050.0" cy="168.2" r="5.15" fill="#9d27b0"/>
<circle cx="1042.4" cy="165.3" r="5.15" fill="#e6087f"/>
<circle cx="1054.0" cy="169.9" r="5.15" fill="#e6087f"/>
<circle cx="1009.6" cy="170.5" r="5.15" fill="#e6087f"/>
<circle cx="1042.4" cy="162.1" r="5.15" fill="#e6087f"/>
<circle cx="1057.6" cy="188.5" r="5.15" fill="#e6087f"/>
<circle cx="1046.5" cy="166.2" r="5.15" fill="#e6087f"/>
<circle cx="1019.6" cy="171.9" r="5.15" fill="#9d27b0"/>
<circle cx="1057.6" cy="181.7" r="5.15" fill="#e6087f"/>
<circle cx="1057.6" cy="171.6" r="5.15" fill="#9d27b0"/>
<circle cx="1017.0" cy="162.4" r="5.15" fill="#e6087f"/>
<circle cx="1013.0" cy="169.9" r="5.15" fill="#9d27b0"/>
<circle cx="1019.6" cy="190.3" r="5.15" fill="#e6087f"/>
<circle cx="1046.5" cy="169.1" r="5.15" fill="#e6087f"/>
<circle cx="1060.5" cy="183.8" r="5.15" fill="#e6087f"/>
<circle cx="1037.0" cy="176.5" r="5.15" fill="#e6087f"/>
<circle cx="1042.4" cy="149.2" r="5.15" fill="#e6087f"/>
<circle cx="1057.6" cy="185.1" r="5.15" fill="#e6087f"/>
<circle cx="1013.0" cy="186.8" r="5.15" fill="#9d27b0"/>
<circle cx="1037.0" cy="179.4" r="5.15" fill="#9d27b0"/>
<circle cx="1054.0" cy="183.5" r="5.15" fill="#e6087f"/>
<circle cx="1042.4" cy="197.6" r="5.15" fill="#f30070"/>
<circle cx="1030.0" cy="169.2" r="5.15" fill="#e6087f"/>
<circle cx="1019.6" cy="168.9" r="5.15" fill="#e6087f"/>
<circle cx="1060.5" cy="180.9" r="5.15" fill="#e6087f"/>
<circle cx="1057.6" cy="161.5" r="5.15" fill="#f30070"/>
<circle cx="1030.0" cy="180.8" r="5.15" fill="#9d27b0"/>
<circle cx="1054.0" cy="180.1" r="5.15" fill="#f30070"/>
<circle cx="1073.3" cy="176.3" r="5.15" fill="#e6087f"/>
<circle cx="1013.0" cy="166.5" r="5.15" fill="#9d27b0"/>
<circle cx="1009.6" cy="173.5" r="5.15" fill="#9d27b0"/>
<circle cx="1042.4" cy="200.8" r="5.15" fill="#e6087f"/>
<circle cx="1030.0" cy="175.0" r="5.15" fill="#e6087f"/>
<circle cx="1013.0" cy="176.7" r="5.15" fill="#9d27b0"/>
<circle cx="1042.4" cy="168.5" r="5.15" fill="#e6087f"/>
<circle cx="1017.0" cy="165.6" r="5.15" fill="#9d27b0"/>
<circle cx="1042.4" cy="181.5" r="5.15" fill="#e6087f"/>
<circle cx="1009.6" cy="164.4" r="5.15" fill="#9d27b0"/>
<circle cx="1063.0" cy="171.2" r="5.15" fill="#e6087f"/>
<circle cx="1009.6" cy="182.5" r="5.15" fill="#9d27b0"/>
<circle cx="1042.4" cy="194.4" r="5.15" fill="#e6087f"/>
<circle cx="1026.7" cy="179.4" r="5.15" fill="#9a29b2"/>
<circle cx="1013.0" cy="183.5" r="5.15" fill="#9d27b0"/>
<circle cx="1017.0" cy="168.7" r="5.15" fill="#e6087f"/>
<circle cx="1037.0" cy="167.7" r="5.15" fill="#e6087f"/>
<circle cx="1017.0" cy="187.6" r="5.15" fill="#9d27b0"/>
<circle cx="1013.0" cy="163.2" r="5.15" fill="#9d27b0"/>
<circle cx="1017.0" cy="181.3" r="5.15" fill="#9d27b0"/>
<circle cx="1009.6" cy="185.6" r="5.15" fill="#e6087f"/>
<circle cx="1063.0" cy="176.3" r="5.15" fill="#f30070"/>
<circle cx="1046.5" cy="172.1" r="5.15" fill="#e6087f"/>
<circle cx="1037.0" cy="182.3" r="5.15" fill="#e6087f"/>
<circle cx="1013.0" cy="180.1" r="5.15" fill="#e6087f"/>
<circle cx="1063.0" cy="178.8" r="5.15" fill="#e6087f"/>
<circle cx="1033.0" cy="172.1" r="5.15" fill="#f30070"/>
<circle cx="1068.3" cy="172.7" r="5.15" fill="#e6087f"/>
<circle cx="1033.0" cy="169.1" r="5.15" fill="#e6087f"/>
<circle cx="1042.4" cy="178.2" r="5.15" fill="#f30070"/>
<circle cx="1057.6" cy="164.9" r="5.15" fill="#f30070"/>
<circle cx="1050.0" cy="170.9" r="5.15" fill="#e6087f"/>
<circle cx="1060.5" cy="166.2" r="5.15" fill="#e6087f"/>
<circle cx="1017.0" cy="156.2" r="5.15" fill="#9a29b2"/>
<circle cx="1017.0" cy="193.8" r="5.15" fill="#9a29b2"/>
<circle cx="1013.0" cy="166.0" r="5.15" fill="#9a29b2"/>
<circle cx="1012.0" cy="185.0" r="5.15" fill="#9a29b2"/>
<circle cx="1042.2" cy="149.2" r="5.15" fill="#e6087f"/>
<circle cx="1042.2" cy="155.0" r="5.15" fill="#e6087f"/>
<circle cx="1042.2" cy="200.8" r="5.15" fill="#e6087f"/>
<circle cx="1042.2" cy="195.0" r="5.15" fill="#c218a0"/>
<circle cx="1044.0" cy="165.0" r="5.15" fill="#9a29b2"/>
<circle cx="1040.0" cy="172.0" r="5.15" fill="#9a29b2"/>
<circle cx="1057.6" cy="158.2" r="5.15" fill="#e6087f"/>
<circle cx="1057.6" cy="191.8" r="5.15" fill="#e6087f"/>
<circle cx="1060.0" cy="186.0" r="5.15" fill="#9a29b2"/>
<circle cx="1033.0" cy="166.2" r="5.15" fill="#e6087f"/>
<circle cx="1033.0" cy="183.8" r="5.15" fill="#e6087f"/>
<circle cx="1071.0" cy="176.5" r="5.15" fill="#ff0654"/>
<circle cx="1066.0" cy="178.0" r="5.15" fill="#ff0654"/>
<circle cx="1019.0" cy="172.0" r="5.15" fill="#e6087f"/>
<circle cx="1020.0" cy="181.0" r="5.15" fill="#e6087f"/>
<circle cx="1010.0" cy="171.0" r="5.15" fill="#e6087f"/>
<circle cx="1011.0" cy="178.0" r="5.15" fill="#e6087f"/>
<circle cx="1087.3" cy="179.7" r="5.15" fill="#f30070"/>
<circle cx="1099.5" cy="172.2" r="5.15" fill="#f30070"/>
<circle cx="1087.3" cy="170.3" r="5.15" fill="#f30070"/>
<circle cx="1091.0" cy="177.8" r="5.15" fill="#f30070"/>
<circle cx="1095.0" cy="173.6" r="5.15" fill="#e6087f"/>
<circle cx="1091.0" cy="172.2" r="5.15" fill="#e6087f"/>
<circle cx="1087.3" cy="173.4" r="5.15" fill="#f30070"/>
<circle cx="1091.0" cy="175.0" r="5.15" fill="#e6087f"/>
<circle cx="1095.0" cy="170.7" r="5.15" fill="#f30070"/>
<circle cx="1099.5" cy="177.8" r="5.15" fill="#e6087f"/>
<circle cx="1095.0" cy="176.4" r="5.15" fill="#e6087f"/>
<circle cx="1087.3" cy="176.6" r="5.15" fill="#e6087f"/>
<circle cx="1095.0" cy="179.3" r="5.15" fill="#f30070"/>
<circle cx="1099.5" cy="175.0" r="5.15" fill="#f30070"/>
<circle cx="1089.0" cy="174.0" r="5.15" fill="#ff0654"/>
<circle cx="1096.0" cy="177.5" r="5.15" fill="#ff0654"/>
<circle cx="1104.0" cy="168.7" r="5.15" fill="#d00c93"/>
<circle cx="1104.0" cy="171.8" r="5.15" fill="#d00c93"/>
<circle cx="1104.0" cy="175.0" r="5.15" fill="#d00c93"/>
<circle cx="1104.0" cy="178.2" r="5.15" fill="#d00c93"/>
<circle cx="1104.0" cy="181.3" r="5.15" fill="#d00c93"/>
<circle cx="1109.0" cy="173.2" r="5.15" fill="#d00c93"/>
<circle cx="1109.0" cy="175.0" r="5.15" fill="#d00c93"/>
<circle cx="1109.0" cy="176.8" r="5.15" fill="#d00c93"/>
<circle cx="1115.4" cy="173.7" r="5.15" fill="#d00c93"/>
<circle cx="1115.4" cy="176.3" r="5.15" fill="#d00c93"/>
<circle cx="1106.5" cy="175.5" r="5.15" fill="#ff0654"/>
<circle cx="1128.6" cy="173.8" r="5.15" fill="#ff0654"/>
<circle cx="1128.6" cy="176.2" r="5.15" fill="#ff0654"/>
<circle cx="1134.0" cy="173.8" r="5.15" fill="#ff0654"/>
<circle cx="1134.0" cy="176.2" r="5.15" fill="#ff0654"/>
<circle cx="1138.0" cy="174.2" r="5.15" fill="#ff0654"/>
<circle cx="1138.0" cy="175.8" r="5.15" fill="#ff0654"/>
<circle cx="1141.6" cy="172.7" r="5.15" fill="#ff0654"/>
<circle cx="1141.6" cy="175.0" r="5.15" fill="#ff0654"/>
<circle cx="1141.6" cy="177.3" r="5.15" fill="#ff0654"/>
<circle cx="1146.0" cy="174.7" r="5.15" fill="#ff0654"/>
<circle cx="1146.0" cy="175.3" r="5.15" fill="#ff0654"/>
<circle cx="1150.2" cy="174.7" r="5.15" fill="#ff0654"/>
<circle cx="1150.2" cy="175.3" r="5.15" fill="#ff0654"/>
<circle cx="1155.0" cy="173.7" r="5.15" fill="#ff0654"/>
<circle cx="1155.0" cy="176.3" r="5.15" fill="#ff0654"/>
<circle cx="1159.8" cy="171.2" r="5.15" fill="#ff0654"/>
<circle cx="1159.8" cy="173.7" r="5.15" fill="#ff0654"/>
<circle cx="1159.8" cy="176.3" r="5.15" fill="#ff0654"/>
<circle cx="1159.8" cy="178.8" r="5.15" fill="#ff0654"/>
<circle cx="1163.0" cy="172.7" r="5.15" fill="#ff0654"/>
<circle cx="1163.0" cy="175.0" r="5.15" fill="#ff0654"/>
<circle cx="1163.0" cy="177.3" r="5.15" fill="#ff0654"/>
<circle cx="1166.0" cy="173.2" r="5.15" fill="#ff0654"/>
<circle cx="1166.0" cy="175.0" r="5.15" fill="#ff0654"/>
<circle cx="1166.0" cy="176.8" r="5.15" fill="#ff0654"/>
<circle cx="1170.9" cy="175.0" r="5.15" fill="#ff0654"/>
<circle cx="888.3" cy="249.6" r="5.15" fill="#048af8"/>
<circle cx="888.3" cy="252.3" r="5.15" fill="#048af8"/>
<circle cx="888.3" cy="255.0" r="5.15" fill="#048af8"/>
<circle cx="888.3" cy="257.7" r="5.15" fill="#048af8"/>
<circle cx="888.3" cy="260.4" r="5.15" fill="#048af8"/>
<circle cx="894.6" cy="254.7" r="5.15" fill="#048af8"/>
<circle cx="894.6" cy="255.3" r="5.15" fill="#048af8"/>
<circle cx="900.0" cy="246.9" r="5.15" fill="#048af8"/>
<circle cx="900.0" cy="250.2" r="5.15" fill="#048af8"/>
<circle cx="900.0" cy="253.4" r="5.15" fill="#048af8"/>
<circle cx="900.0" cy="256.6" r="5.15" fill="#048af8"/>
<circle cx="900.0" cy="259.8" r="5.15" fill="#048af8"/>
<circle cx="900.0" cy="263.1" r="5.15" fill="#048af8"/>
<circle cx="904.0" cy="246.7" r="5.15" fill="#048af8"/>
<circle cx="904.0" cy="250.0" r="5.15" fill="#048af8"/>
<circle cx="904.0" cy="253.3" r="5.15" fill="#048af8"/>
<circle cx="904.0" cy="256.7" r="5.15" fill="#048af8"/>
<circle cx="904.0" cy="260.0" r="5.15" fill="#048af8"/>
<circle cx="904.0" cy="263.4" r="5.15" fill="#048af8"/>
<circle cx="908.4" cy="243.9" r="5.15" fill="#048af8"/>
<circle cx="908.4" cy="247.1" r="5.15" fill="#048af8"/>
<circle cx="908.4" cy="250.3" r="5.15" fill="#048af8"/>
<circle cx="908.4" cy="253.4" r="5.15" fill="#048af8"/>
<circle cx="908.4" cy="256.6" r="5.15" fill="#048af8"/>
<circle cx="908.4" cy="259.7" r="5.15" fill="#048af8"/>
<circle cx="908.4" cy="262.9" r="5.15" fill="#048af8"/>
<circle cx="908.4" cy="266.1" r="5.15" fill="#048af8"/>
<circle cx="913.0" cy="241.2" r="5.15" fill="#048af8"/>
<circle cx="913.0" cy="244.2" r="5.15" fill="#048af8"/>
<circle cx="913.0" cy="247.3" r="5.15" fill="#048af8"/>
<circle cx="913.0" cy="250.4" r="5.15" fill="#048af8"/>
<circle cx="913.0" cy="253.5" r="5.15" fill="#048af8"/>
<circle cx="913.0" cy="256.5" r="5.15" fill="#048af8"/>
<circle cx="913.0" cy="259.6" r="5.15" fill="#048af8"/>
<circle cx="913.0" cy="262.7" r="5.15" fill="#048af8"/>
<circle cx="913.0" cy="265.8" r="5.15" fill="#048af8"/>
<circle cx="913.0" cy="268.9" r="5.15" fill="#048af8"/>
<circle cx="918.0" cy="236.3" r="5.15" fill="#048af8"/>
<circle cx="918.0" cy="239.7" r="5.15" fill="#048af8"/>
<circle cx="918.0" cy="243.1" r="5.15" fill="#048af8"/>
<circle cx="918.0" cy="246.5" r="5.15" fill="#048af8"/>
<circle cx="918.0" cy="249.9" r="5.15" fill="#048af8"/>
<circle cx="918.0" cy="253.3" r="5.15" fill="#048af8"/>
<circle cx="918.0" cy="256.7" r="5.15" fill="#048af8"/>
<circle cx="918.0" cy="260.1" r="5.15" fill="#048af8"/>
<circle cx="918.0" cy="263.5" r="5.15" fill="#048af8"/>
<circle cx="918.0" cy="266.9" r="5.15" fill="#048af8"/>
<circle cx="918.0" cy="270.3" r="5.15" fill="#048af8"/>
<circle cx="918.0" cy="273.6" r="5.15" fill="#048af8"/>
<circle cx="922.5" cy="249.2" r="5.15" fill="#048af8"/>
<circle cx="922.5" cy="252.1" r="5.15" fill="#048af8"/>
<circle cx="922.5" cy="255.0" r="5.15" fill="#048af8"/>
<circle cx="922.5" cy="257.9" r="5.15" fill="#048af8"/>
<circle cx="922.5" cy="260.9" r="5.15" fill="#048af8"/>
<circle cx="926.5" cy="249.2" r="5.15" fill="#048af8"/>
<circle cx="926.5" cy="252.1" r="5.15" fill="#048af8"/>
<circle cx="926.5" cy="255.0" r="5.15" fill="#048af8"/>
<circle cx="926.5" cy="257.9" r="5.15" fill="#048af8"/>
<circle cx="926.5" cy="260.9" r="5.15" fill="#048af8"/>
<circle cx="930.5" cy="248.2" r="5.15" fill="#048af8"/>
<circle cx="930.5" cy="250.9" r="5.15" fill="#048af8"/>
<circle cx="930.5" cy="253.6" r="5.15" fill="#048af8"/>
<circle cx="930.5" cy="256.4" r="5.15" fill="#048af8"/>
<circle cx="930.5" cy="259.1" r="5.15" fill="#048af8"/>
<circle cx="930.5" cy="261.9" r="5.15" fill="#048af8"/>
<circle cx="934.2" cy="247.2" r="5.15" fill="#048af8"/>
<circle cx="934.2" cy="250.3" r="5.15" fill="#048af8"/>
<circle cx="934.2" cy="253.4" r="5.15" fill="#048af8"/>
<circle cx="934.2" cy="256.6" r="5.15" fill="#048af8"/>
<circle cx="934.2" cy="259.7" r="5.15" fill="#048af8"/>
<circle cx="934.2" cy="262.9" r="5.15" fill="#048af8"/>
<circle cx="939.1" cy="228.6" r="5.15" fill="#048af8"/>
<circle cx="939.1" cy="231.9" r="5.15" fill="#048af8"/>
<circle cx="939.1" cy="235.2" r="5.15" fill="#048af8"/>
<circle cx="939.1" cy="238.5" r="5.15" fill="#048af8"/>
<circle cx="939.1" cy="241.8" r="5.15" fill="#048af8"/>
<circle cx="939.1" cy="245.1" r="5.15" fill="#048af8"/>
<circle cx="939.1" cy="248.4" r="5.15" fill="#048af8"/>
<circle cx="939.1" cy="251.7" r="5.15" fill="#048af8"/>
<circle cx="939.1" cy="255.0" r="5.15" fill="#048af8"/>
<circle cx="939.1" cy="258.3" r="5.15" fill="#048af8"/>
<circle cx="939.1" cy="261.6" r="5.15" fill="#048af8"/>
<circle cx="939.1" cy="264.9" r="5.15" fill="#048af8"/>
<circle cx="939.1" cy="268.2" r="5.15" fill="#048af8"/>
<circle cx="939.1" cy="271.5" r="5.15" fill="#048af8"/>
<circle cx="939.1" cy="274.8" r="5.15" fill="#048af8"/>
<circle cx="939.1" cy="278.1" r="5.15" fill="#048af8"/>
<circle cx="939.1" cy="281.4" r="5.15" fill="#048af8"/>
<circle cx="943.3" cy="232.2" r="5.15" fill="#048af8"/>
<circle cx="943.3" cy="235.4" r="5.15" fill="#048af8"/>
<circle cx="943.3" cy="238.7" r="5.15" fill="#048af8"/>
<circle cx="943.3" cy="241.9" r="5.15" fill="#048af8"/>
<circle cx="943.3" cy="245.2" r="5.15" fill="#048af8"/>
<circle cx="943.3" cy="248.5" r="5.15" fill="#048af8"/>
<circle cx="943.3" cy="251.7" r="5.15" fill="#048af8"/>
<circle cx="943.3" cy="255.0" r="5.15" fill="#048af8"/>
<circle cx="943.3" cy="258.3" r="5.15" fill="#048af8"/>
<circle cx="943.3" cy="261.5" r="5.15" fill="#048af8"/>
<circle cx="943.3" cy="264.8" r="5.15" fill="#048af8"/>
<circle cx="943.3" cy="268.1" r="5.15" fill="#048af8"/>
<circle cx="943.3" cy="271.3" r="5.15" fill="#048af8"/>
<circle cx="943.3" cy="274.6" r="5.15" fill="#048af8"/>
<circle cx="943.3" cy="277.9" r="5.15" fill="#048af8"/>
<circle cx="948.7" cy="237.3" r="5.15" fill="#048af8"/>
<circle cx="948.7" cy="240.6" r="5.15" fill="#048af8"/>
<circle cx="948.7" cy="243.8" r="5.15" fill="#048af8"/>
<circle cx="948.7" cy="247.0" r="5.15" fill="#048af8"/>
<circle cx="948.7" cy="250.2" r="5.15" fill="#048af8"/>
<circle cx="948.7" cy="253.4" r="5.15" fill="#048af8"/>
<circle cx="948.7" cy="256.6" r="5.15" fill="#048af8"/>
<circle cx="948.7" cy="259.8" r="5.15" fill="#048af8"/>
<circle cx="948.7" cy="263.0" r="5.15" fill="#048af8"/>
<circle cx="948.7" cy="266.2" r="5.15" fill="#048af8"/>
<circle cx="948.7" cy="269.4" r="5.15" fill="#048af8"/>
<circle cx="948.7" cy="272.6" r="5.15" fill="#048af8"/>
<circle cx="952.5" cy="242.2" r="5.15" fill="#048af8"/>
<circle cx="952.5" cy="245.4" r="5.15" fill="#048af8"/>
<circle cx="952.5" cy="248.6" r="5.15" fill="#048af8"/>
<circle cx="952.5" cy="251.8" r="5.15" fill="#048af8"/>
<circle cx="952.5" cy="255.0" r="5.15" fill="#048af8"/>
<circle cx="952.5" cy="258.2" r="5.15" fill="#048af8"/>
<circle cx="952.5" cy="261.4" r="5.15" fill="#048af8"/>
<circle cx="952.5" cy="264.6" r="5.15" fill="#048af8"/>
<circle cx="952.5" cy="267.9" r="5.15" fill="#048af8"/>
<circle cx="956.5" cy="243.2" r="5.15" fill="#048af8"/>
<circle cx="956.5" cy="246.5" r="5.15" fill="#048af8"/>
<circle cx="956.5" cy="249.9" r="5.15" fill="#048af8"/>
<circle cx="956.5" cy="253.3" r="5.15" fill="#048af8"/>
<circle cx="956.5" cy="256.7" r="5.15" fill="#048af8"/>
<circle cx="956.5" cy="260.1" r="5.15" fill="#048af8"/>
<circle cx="956.5" cy="263.5" r="5.15" fill="#048af8"/>
<circle cx="956.5" cy="266.9" r="5.15" fill="#048af8"/>
<circle cx="960.0" cy="241.2" r="5.15" fill="#048af8"/>
<circle cx="960.0" cy="244.2" r="5.15" fill="#048af8"/>
<circle cx="960.0" cy="247.3" r="5.15" fill="#048af8"/>
<circle cx="960.0" cy="250.4" r="5.15" fill="#048af8"/>
<circle cx="960.0" cy="253.5" r="5.15" fill="#048af8"/>
<circle cx="960.0" cy="256.5" r="5.15" fill="#048af8"/>
<circle cx="960.0" cy="259.6" r="5.15" fill="#048af8"/>
<circle cx="960.0" cy="262.7" r="5.15" fill="#048af8"/>
<circle cx="960.0" cy="265.8" r="5.15" fill="#048af8"/>
<circle cx="960.0" cy="268.9" r="5.15" fill="#048af8"/>
<circle cx="963.7" cy="237.6" r="5.15" fill="#048af8"/>
<circle cx="963.7" cy="240.7" r="5.15" fill="#048af8"/>
<circle cx="963.7" cy="243.9" r="5.15" fill="#048af8"/>
<circle cx="963.7" cy="247.1" r="5.15" fill="#048af8"/>
<circle cx="963.7" cy="250.2" r="5.15" fill="#048af8"/>
<circle cx="963.7" cy="253.4" r="5.15" fill="#048af8"/>
<circle cx="963.7" cy="256.6" r="5.15" fill="#048af8"/>
<circle cx="963.7" cy="259.8" r="5.15" fill="#048af8"/>
<circle cx="963.7" cy="262.9" r="5.15" fill="#048af8"/>
<circle cx="963.7" cy="266.1" r="5.15" fill="#048af8"/>
<circle cx="963.7" cy="269.3" r="5.15" fill="#048af8"/>
<circle cx="963.7" cy="272.4" r="5.15" fill="#048af8"/>
<circle cx="967.0" cy="247.2" r="5.15" fill="#048af8"/>
<circle cx="967.0" cy="250.3" r="5.15" fill="#048af8"/>
<circle cx="967.0" cy="253.4" r="5.15" fill="#048af8"/>
<circle cx="967.0" cy="256.6" r="5.15" fill="#048af8"/>
<circle cx="967.0" cy="259.7" r="5.15" fill="#048af8"/>
<circle cx="967.0" cy="262.9" r="5.15" fill="#048af8"/>
<circle cx="969.6" cy="252.2" r="5.15" fill="#048af8"/>
<circle cx="969.6" cy="255.0" r="5.15" fill="#048af8"/>
<circle cx="969.6" cy="257.9" r="5.15" fill="#048af8"/>
<circle cx="1008.2" cy="254.7" r="5.15" fill="#9a29b2"/>
<circle cx="1008.2" cy="255.3" r="5.15" fill="#9a29b2"/>
<circle cx="1011.2" cy="253.2" r="5.15" fill="#9a29b2"/>
<circle cx="1011.2" cy="255.0" r="5.15" fill="#9a29b2"/>
<circle cx="1011.2" cy="256.9" r="5.15" fill="#9a29b2"/>
<circle cx="1016.0" cy="252.7" r="5.15" fill="#9a29b2"/>
<circle cx="1016.0" cy="255.0" r="5.15" fill="#9a29b2"/>
<circle cx="1016.0" cy="257.4" r="5.15" fill="#9a29b2"/>
<circle cx="1021.9" cy="250.4" r="5.15" fill="#9a29b2"/>
<circle cx="1021.9" cy="253.5" r="5.15" fill="#9a29b2"/>
<circle cx="1021.9" cy="256.5" r="5.15" fill="#9a29b2"/>
<circle cx="1021.9" cy="259.6" r="5.15" fill="#9a29b2"/>
<circle cx="1026.0" cy="251.7" r="5.15" fill="#9a29b2"/>
<circle cx="1026.0" cy="255.0" r="5.15" fill="#9a29b2"/>
<circle cx="1026.0" cy="258.4" r="5.15" fill="#9a29b2"/>
<circle cx="1030.0" cy="252.2" r="5.15" fill="#9a29b2"/>
<circle cx="1030.0" cy="255.0" r="5.15" fill="#9a29b2"/>
<circle cx="1030.0" cy="257.9" r="5.15" fill="#9a29b2"/>
<circle cx="1034.7" cy="240.8" r="5.15" fill="#9a29b2"/>
<circle cx="1034.7" cy="243.9" r="5.15" fill="#9a29b2"/>
<circle cx="1034.7" cy="247.1" r="5.15" fill="#9a29b2"/>
<circle cx="1034.7" cy="250.2" r="5.15" fill="#9a29b2"/>
<circle cx="1034.7" cy="253.4" r="5.15" fill="#9a29b2"/>
<circle cx="1034.7" cy="256.6" r="5.15" fill="#9a29b2"/>
<circle cx="1034.7" cy="259.8" r="5.15" fill="#9a29b2"/>
<circle cx="1034.7" cy="262.9" r="5.15" fill="#9a29b2"/>
<circle cx="1034.7" cy="266.1" r="5.15" fill="#9a29b2"/>
<circle cx="1034.7" cy="269.2" r="5.15" fill="#9a29b2"/>
<circle cx="1038.5" cy="253.2" r="5.15" fill="#9a29b2"/>
<circle cx="1038.5" cy="255.0" r="5.15" fill="#9a29b2"/>
<circle cx="1038.5" cy="256.9" r="5.15" fill="#9a29b2"/>
<circle cx="1048.0" cy="245.7" r="5.15" fill="#ff0654"/>
<circle cx="1048.0" cy="248.8" r="5.15" fill="#ff0654"/>
<circle cx="1048.0" cy="251.9" r="5.15" fill="#ff0654"/>
<circle cx="1048.0" cy="255.0" r="5.15" fill="#ff0654"/>
<circle cx="1048.0" cy="258.1" r="5.15" fill="#ff0654"/>
<circle cx="1048.0" cy="261.2" r="5.15" fill="#ff0654"/>
<circle cx="1048.0" cy="264.4" r="5.15" fill="#ff0654"/>
<circle cx="1040.6" cy="253.5" r="5.15" fill="#ff0654"/>
<circle cx="1052.5" cy="249.0" r="5.15" fill="#ff0654"/>
<circle cx="1044.0" cy="258.0" r="5.15" fill="#9a29b2"/>
<circle cx="1048.5" cy="259.5" r="5.15" fill="#9a29b2"/>
<circle cx="1053.0" cy="260.0" r="5.15" fill="#9a29b2"/>
<circle cx="1057.0" cy="259.0" r="5.15" fill="#9a29b2"/>
<circle cx="1060.6" cy="247.7" r="5.15" fill="#9a29b2"/>
<circle cx="1060.6" cy="253.0" r="5.15" fill="#9a29b2"/>
<circle cx="1060.6" cy="258.0" r="5.15" fill="#9a29b2"/>
<circle cx="1064.0" cy="260.0" r="5.15" fill="#9a29b2"/>
<circle cx="1049.0" cy="255.0" r="5.15" fill="#9a29b2"/>
<circle cx="1055.0" cy="256.0" r="5.15" fill="#9a29b2"/>
<circle cx="1058.0" cy="251.4" r="5.15" fill="#ff0654"/>
<circle cx="1071.2" cy="247.7" r="5.15" fill="#ff0654"/>
<circle cx="1071.2" cy="250.6" r="5.15" fill="#ff0654"/>
<circle cx="1071.2" cy="253.5" r="5.15" fill="#ff0654"/>
<circle cx="1071.2" cy="256.5" r="5.15" fill="#ff0654"/>
<circle cx="1071.2" cy="259.4" r="5.15" fill="#ff0654"/>
<circle cx="1071.2" cy="262.4" r="5.15" fill="#ff0654"/>
<circle cx="1067.0" cy="252.2" r="5.15" fill="#ff0654"/>
<circle cx="1067.0" cy="255.0" r="5.15" fill="#ff0654"/>
<circle cx="1067.0" cy="257.9" r="5.15" fill="#ff0654"/>
<circle cx="1067.0" cy="257.0" r="5.15" fill="#9a29b2"/>
<circle cx="1071.0" cy="259.0" r="5.15" fill="#9a29b2"/>
<circle cx="1075.0" cy="258.0" r="5.15" fill="#9a29b2"/>
<circle cx="1079.0" cy="256.5" r="5.15" fill="#9a29b2"/>
<circle cx="1069.0" cy="255.0" r="5.15" fill="#9a29b2"/>
<circle cx="1073.0" cy="254.5" r="5.15" fill="#9a29b2"/>
<circle cx="1081.2" cy="252.7" r="5.15" fill="#ff0654"/>
<circle cx="1081.2" cy="255.0" r="5.15" fill="#ff0654"/>
<circle cx="1081.2" cy="257.4" r="5.15" fill="#ff0654"/>
<circle cx="1083.0" cy="257.0" r="5.15" fill="#9a29b2"/>
<circle cx="1087.4" cy="249.5" r="5.15" fill="#ff0654"/>
<circle cx="1087.4" cy="253.0" r="5.15" fill="#ff0654"/>
<circle cx="1087.4" cy="256.0" r="5.15" fill="#ff0654"/>
<circle cx="1084.0" cy="251.0" r="5.15" fill="#ff0654"/>
<circle cx="1087.4" cy="258.0" r="5.15" fill="#9a29b2"/>
<circle cx="1087.4" cy="261.6" r="5.15" fill="#9a29b2"/>
<circle cx="1093.0" cy="247.7" r="5.15" fill="#9a29b2"/>
<circle cx="1093.0" cy="250.6" r="5.15" fill="#9a29b2"/>
<circle cx="1093.0" cy="253.5" r="5.15" fill="#9a29b2"/>
<circle cx="1093.0" cy="256.5" r="5.15" fill="#9a29b2"/>
<circle cx="1093.0" cy="259.4" r="5.15" fill="#9a29b2"/>
<circle cx="1093.0" cy="262.4" r="5.15" fill="#9a29b2"/>
<circle cx="1089.5" cy="251.2" r="5.15" fill="#9a29b2"/>
<circle cx="1089.5" cy="253.7" r="5.15" fill="#9a29b2"/>
<circle cx="1089.5" cy="256.3" r="5.15" fill="#9a29b2"/>
<circle cx="1089.5" cy="258.9" r="5.15" fill="#9a29b2"/>
<circle cx="1085.5" cy="259.0" r="5.15" fill="#9a29b2"/>
<circle cx="1097.4" cy="253.7" r="5.15" fill="#ff0654"/>
<circle cx="1101.5" cy="255.0" r="5.15" fill="#9a29b2"/>
<circle cx="1105.0" cy="254.7" r="5.15" fill="#9a29b2"/>
<circle cx="1105.0" cy="255.3" r="5.15" fill="#9a29b2"/>
<circle cx="1108.5" cy="253.2" r="5.15" fill="#9a29b2"/>
<circle cx="1108.5" cy="255.0" r="5.15" fill="#9a29b2"/>
<circle cx="1108.5" cy="256.9" r="5.15" fill="#9a29b2"/>
<circle cx="1112.4" cy="249.6" r="5.15" fill="#9a29b2"/>
<circle cx="1112.4" cy="252.3" r="5.15" fill="#9a29b2"/>
<circle cx="1112.4" cy="255.0" r="5.15" fill="#9a29b2"/>
<circle cx="1112.4" cy="257.7" r="5.15" fill="#9a29b2"/>
<circle cx="1112.4" cy="260.4" r="5.15" fill="#9a29b2"/>
<circle cx="1116.5" cy="253.2" r="5.15" fill="#9a29b2"/>
<circle cx="1116.5" cy="255.0" r="5.15" fill="#9a29b2"/>
<circle cx="1116.5" cy="256.9" r="5.15" fill="#9a29b2"/>
<circle cx="1121.0" cy="253.7" r="5.15" fill="#9a29b2"/>
<circle cx="1121.0" cy="256.4" r="5.15" fill="#9a29b2"/>
<circle cx="1124.5" cy="255.0" r="5.15" fill="#9a29b2"/>
<circle cx="1129.3" cy="256.8" r="5.15" fill="#ff0654"/>
<circle cx="1126.8" cy="251.2" r="5.15" fill="#9a29b2"/>
<circle cx="1135.0" cy="253.0" r="5.15" fill="#ff0654"/>
<circle cx="1141.0" cy="251.2" r="5.15" fill="#ff0654"/>
<circle cx="1140.5" cy="256.2" r="5.15" fill="#9a29b2"/>
<circle cx="1144.0" cy="257.0" r="5.15" fill="#ff0654"/>
<circle cx="1148.5" cy="255.5" r="5.15" fill="#ff0654"/>
<circle cx="1154.9" cy="255.5" r="5.15" fill="#ff0654"/>
<circle cx="1156.9" cy="255.3" r="5.15" fill="#ff0654"/>
<circle cx="915.8" cy="332.4" r="5.15" fill="#048af8"/>
<circle cx="915.8" cy="335.0" r="5.15" fill="#048af8"/>
<circle cx="915.8" cy="337.6" r="5.15" fill="#048af8"/>
<circle cx="922.2" cy="319.8" r="5.15" fill="#048af8"/>
<circle cx="922.2" cy="323.1" r="5.15" fill="#048af8"/>
<circle cx="922.2" cy="326.5" r="5.15" fill="#048af8"/>
<circle cx="922.2" cy="329.9" r="5.15" fill="#048af8"/>
<circle cx="922.2" cy="333.3" r="5.15" fill="#048af8"/>
<circle cx="922.2" cy="336.7" r="5.15" fill="#048af8"/>
<circle cx="922.2" cy="340.1" r="5.15" fill="#048af8"/>
<circle cx="922.2" cy="343.5" r="5.15" fill="#048af8"/>
<circle cx="922.2" cy="346.9" r="5.15" fill="#048af8"/>
<circle cx="922.2" cy="350.2" r="5.15" fill="#048af8"/>
<circle cx="929.4" cy="334.6" r="5.15" fill="#048af8"/>
<circle cx="929.4" cy="335.4" r="5.15" fill="#048af8"/>
<circle cx="933.5" cy="331.0" r="5.15" fill="#048af8"/>
<circle cx="933.5" cy="334.5" r="5.15" fill="#048af8"/>
<circle cx="933.5" cy="338.0" r="5.15" fill="#048af8"/>
<circle cx="933.5" cy="341.5" r="5.15" fill="#048af8"/>
<circle cx="937.5" cy="327.0" r="5.15" fill="#9a29b2"/>
<circle cx="938.0" cy="330.5" r="5.15" fill="#9a29b2"/>
<circle cx="938.0" cy="334.0" r="5.15" fill="#9a29b2"/>
<circle cx="937.5" cy="337.5" r="5.15" fill="#9a29b2"/>
<circle cx="940.5" cy="337.0" r="5.15" fill="#048af8"/>
<circle cx="941.0" cy="341.0" r="5.15" fill="#048af8"/>
<circle cx="940.8" cy="344.5" r="5.15" fill="#048af8"/>
<circle cx="946.0" cy="318.6" r="5.15" fill="#9a29b2"/>
<circle cx="946.0" cy="321.9" r="5.15" fill="#9a29b2"/>
<circle cx="946.0" cy="325.2" r="5.15" fill="#9a29b2"/>
<circle cx="946.0" cy="328.5" r="5.15" fill="#9a29b2"/>
<circle cx="946.0" cy="331.7" r="5.15" fill="#9a29b2"/>
<circle cx="946.0" cy="335.0" r="5.15" fill="#9a29b2"/>
<circle cx="946.0" cy="338.3" r="5.15" fill="#9a29b2"/>
<circle cx="946.0" cy="341.5" r="5.15" fill="#9a29b2"/>
<circle cx="946.0" cy="344.8" r="5.15" fill="#9a29b2"/>
<circle cx="946.0" cy="348.1" r="5.15" fill="#9a29b2"/>
<circle cx="946.0" cy="351.4" r="5.15" fill="#9a29b2"/>
<circle cx="947.0" cy="327.0" r="5.15" fill="#048af8"/>
<circle cx="948.0" cy="330.5" r="5.15" fill="#048af8"/>
<circle cx="947.5" cy="334.0" r="5.15" fill="#048af8"/>
<circle cx="948.0" cy="337.5" r="5.15" fill="#048af8"/>
<circle cx="947.5" cy="341.0" r="5.15" fill="#048af8"/>
<circle cx="948.0" cy="344.5" r="5.15" fill="#048af8"/>
<circle cx="944.5" cy="335.0" r="5.15" fill="#048af8"/>
<circle cx="953.0" cy="318.4" r="5.15" fill="#048af8"/>
<circle cx="953.0" cy="321.8" r="5.15" fill="#048af8"/>
<circle cx="953.0" cy="325.1" r="5.15" fill="#048af8"/>
<circle cx="953.0" cy="328.4" r="5.15" fill="#048af8"/>
<circle cx="953.0" cy="331.7" r="5.15" fill="#048af8"/>
<circle cx="953.0" cy="335.0" r="5.15" fill="#048af8"/>
<circle cx="953.0" cy="338.3" r="5.15" fill="#048af8"/>
<circle cx="953.0" cy="341.6" r="5.15" fill="#048af8"/>
<circle cx="953.0" cy="344.9" r="5.15" fill="#048af8"/>
<circle cx="953.0" cy="348.2" r="5.15" fill="#048af8"/>
<circle cx="953.0" cy="351.6" r="5.15" fill="#048af8"/>
<circle cx="958.3" cy="343.0" r="5.15" fill="#9a29b2"/>
<circle cx="958.9" cy="326.1" r="5.15" fill="#048af8"/>
<circle cx="958.9" cy="329.1" r="5.15" fill="#048af8"/>
<circle cx="958.9" cy="332.1" r="5.15" fill="#048af8"/>
<circle cx="958.9" cy="335.0" r="5.15" fill="#048af8"/>
<circle cx="958.9" cy="337.9" r="5.15" fill="#048af8"/>
<circle cx="958.9" cy="340.9" r="5.15" fill="#048af8"/>
<circle cx="958.9" cy="343.9" r="5.15" fill="#048af8"/>
<circle cx="956.5" cy="340.0" r="5.15" fill="#048af8"/>
<circle cx="962.0" cy="330.2" r="5.15" fill="#a52aa8"/>
<circle cx="963.1" cy="349.5" r="5.15" fill="#9a29b2"/>
<circle cx="963.5" cy="353.6" r="5.15" fill="#9a29b2"/>
<circle cx="967.0" cy="352.5" r="5.15" fill="#9a29b2"/>
<circle cx="960.0" cy="350.0" r="5.15" fill="#9a29b2"/>
<circle cx="970.0" cy="351.0" r="5.15" fill="#9a29b2"/>
<circle cx="965.2" cy="316.0" r="5.15" fill="#048af8"/>
<circle cx="965.2" cy="319.5" r="5.15" fill="#048af8"/>
<circle cx="965.2" cy="323.0" r="5.15" fill="#048af8"/>
<circle cx="965.2" cy="326.5" r="5.15" fill="#048af8"/>
<circle cx="965.2" cy="330.0" r="5.15" fill="#048af8"/>
<circle cx="965.2" cy="333.5" r="5.15" fill="#048af8"/>
<circle cx="965.2" cy="337.0" r="5.15" fill="#048af8"/>
<circle cx="965.2" cy="340.5" r="5.15" fill="#048af8"/>
<circle cx="965.2" cy="344.0" r="5.15" fill="#048af8"/>
<circle cx="961.5" cy="322.0" r="5.15" fill="#048af8"/>
<circle cx="969.5" cy="321.0" r="5.15" fill="#048af8"/>
<circle cx="969.5" cy="324.5" r="5.15" fill="#048af8"/>
<circle cx="969.5" cy="328.0" r="5.15" fill="#048af8"/>
<circle cx="969.5" cy="331.5" r="5.15" fill="#048af8"/>
<circle cx="969.5" cy="335.0" r="5.15" fill="#048af8"/>
<circle cx="969.5" cy="338.5" r="5.15" fill="#048af8"/>
<circle cx="969.5" cy="342.0" r="5.15" fill="#048af8"/>
<circle cx="973.5" cy="325.4" r="5.15" fill="#9a29b2"/>
<circle cx="975.8" cy="316.1" r="5.15" fill="#9a29b2"/>
<circle cx="975.8" cy="319.3" r="5.15" fill="#9a29b2"/>
<circle cx="975.8" cy="322.4" r="5.15" fill="#9a29b2"/>
<circle cx="975.8" cy="347.6" r="5.15" fill="#9a29b2"/>
<circle cx="975.8" cy="350.7" r="5.15" fill="#9a29b2"/>
<circle cx="975.8" cy="353.9" r="5.15" fill="#9a29b2"/>
<circle cx="973.0" cy="337.0" r="5.15" fill="#048af8"/>
<circle cx="971.5" cy="341.5" r="5.15" fill="#048af8"/>
<circle cx="974.5" cy="332.5" r="5.15" fill="#048af8"/>
<circle cx="976.0" cy="344.5" r="5.15" fill="#9a29b2"/>
<circle cx="985.8" cy="329.4" r="5.15" fill="#048af8"/>
<circle cx="985.8" cy="332.2" r="5.15" fill="#048af8"/>
<circle cx="985.8" cy="335.0" r="5.15" fill="#048af8"/>
<circle cx="985.8" cy="337.8" r="5.15" fill="#048af8"/>
<circle cx="985.8" cy="340.6" r="5.15" fill="#048af8"/>
<circle cx="980.0" cy="308.4" r="5.15" fill="#9a29b2"/>
<circle cx="980.0" cy="311.7" r="5.15" fill="#9a29b2"/>
<circle cx="980.0" cy="315.0" r="5.15" fill="#9a29b2"/>
<circle cx="980.0" cy="318.3" r="5.15" fill="#9a29b2"/>
<circle cx="980.0" cy="321.7" r="5.15" fill="#9a29b2"/>
<circle cx="980.0" cy="325.0" r="5.15" fill="#9a29b2"/>
<circle cx="980.0" cy="328.3" r="5.15" fill="#9a29b2"/>
<circle cx="980.0" cy="331.7" r="5.15" fill="#9a29b2"/>
<circle cx="980.0" cy="335.0" r="5.15" fill="#9a29b2"/>
<circle cx="980.0" cy="338.3" r="5.15" fill="#9a29b2"/>
<circle cx="980.0" cy="341.7" r="5.15" fill="#9a29b2"/>
<circle cx="980.0" cy="345.0" r="5.15" fill="#9a29b2"/>
<circle cx="980.0" cy="348.3" r="5.15" fill="#9a29b2"/>
<circle cx="980.0" cy="351.7" r="5.15" fill="#9a29b2"/>
<circle cx="980.0" cy="355.0" r="5.15" fill="#9a29b2"/>
<circle cx="980.0" cy="358.3" r="5.15" fill="#9a29b2"/>
<circle cx="980.0" cy="361.6" r="5.15" fill="#9a29b2"/>
<circle cx="982.2" cy="311.1" r="5.15" fill="#9a29b2"/>
<circle cx="982.2" cy="314.3" r="5.15" fill="#9a29b2"/>
<circle cx="982.2" cy="317.5" r="5.15" fill="#9a29b2"/>
<circle cx="982.2" cy="320.7" r="5.15" fill="#9a29b2"/>
<circle cx="982.2" cy="323.9" r="5.15" fill="#9a29b2"/>
<circle cx="982.2" cy="327.1" r="5.15" fill="#9a29b2"/>
<circle cx="982.2" cy="330.2" r="5.15" fill="#9a29b2"/>
<circle cx="982.2" cy="333.4" r="5.15" fill="#9a29b2"/>
<circle cx="982.2" cy="336.6" r="5.15" fill="#9a29b2"/>
<circle cx="982.2" cy="339.8" r="5.15" fill="#9a29b2"/>
<circle cx="982.2" cy="342.9" r="5.15" fill="#9a29b2"/>
<circle cx="982.2" cy="346.1" r="5.15" fill="#9a29b2"/>
<circle cx="982.2" cy="349.3" r="5.15" fill="#9a29b2"/>
<circle cx="982.2" cy="352.5" r="5.15" fill="#9a29b2"/>
<circle cx="982.2" cy="355.7" r="5.15" fill="#9a29b2"/>
<circle cx="982.2" cy="358.9" r="5.15" fill="#9a29b2"/>
<circle cx="974.2" cy="325.6" r="5.15" fill="#9a29b2"/>
<circle cx="975.3" cy="326.7" r="5.15" fill="#048af8"/>
<circle cx="977.6" cy="338.8" r="5.15" fill="#9a29b2"/>
<circle cx="977.0" cy="339.8" r="5.15" fill="#048af8"/>
<circle cx="973.5" cy="335.5" r="5.15" fill="#048af8"/>
<circle cx="984.6" cy="332.0" r="5.15" fill="#9a29b2"/>
<circle cx="984.8" cy="342.0" r="5.15" fill="#9a29b2"/>
<circle cx="987.2" cy="334.5" r="5.15" fill="#048af8"/>
<circle cx="987.2" cy="339.0" r="5.15" fill="#048af8"/>
<circle cx="994.0" cy="331.6" r="5.15" fill="#9a29b2"/>
<circle cx="994.0" cy="335.0" r="5.15" fill="#9a29b2"/>
<circle cx="994.0" cy="338.4" r="5.15" fill="#9a29b2"/>
<circle cx="997.0" cy="330.1" r="5.15" fill="#9a29b2"/>
<circle cx="997.0" cy="333.4" r="5.15" fill="#9a29b2"/>
<circle cx="997.0" cy="336.6" r="5.15" fill="#9a29b2"/>
<circle cx="997.0" cy="339.9" r="5.15" fill="#9a29b2"/>
<circle cx="1000.0" cy="329.1" r="5.15" fill="#9a29b2"/>
<circle cx="1000.0" cy="332.1" r="5.15" fill="#9a29b2"/>
<circle cx="1000.0" cy="335.0" r="5.15" fill="#9a29b2"/>
<circle cx="1000.0" cy="337.9" r="5.15" fill="#9a29b2"/>
<circle cx="1000.0" cy="340.9" r="5.15" fill="#9a29b2"/>
<circle cx="1002.7" cy="328.2" r="5.15" fill="#9a29b2"/>
<circle cx="1002.7" cy="331.6" r="5.15" fill="#9a29b2"/>
<circle cx="1002.7" cy="335.0" r="5.15" fill="#9a29b2"/>
<circle cx="1002.7" cy="338.4" r="5.15" fill="#9a29b2"/>
<circle cx="1002.7" cy="341.8" r="5.15" fill="#9a29b2"/>
<circle cx="1005.5" cy="331.1" r="5.15" fill="#9a29b2"/>
<circle cx="1005.5" cy="333.7" r="5.15" fill="#9a29b2"/>
<circle cx="1005.5" cy="336.3" r="5.15" fill="#9a29b2"/>
<circle cx="1005.5" cy="338.9" r="5.15" fill="#9a29b2"/>
<circle cx="1031.9" cy="334.7" r="5.15" fill="#ff0654"/>
<circle cx="1048.7" cy="334.7" r="5.15" fill="#ff0654"/>
<circle cx="1056.2" cy="334.7" r="5.15" fill="#ff0654"/>
<circle cx="1069.5" cy="334.6" r="5.15" fill="#ff0654"/>
<circle cx="1069.5" cy="335.4" r="5.15" fill="#ff0654"/>
<circle cx="1073.5" cy="334.6" r="5.15" fill="#ff0654"/>
<circle cx="1073.5" cy="335.4" r="5.15" fill="#ff0654"/>
<circle cx="1077.5" cy="334.6" r="5.15" fill="#ff0654"/>
<circle cx="1077.5" cy="335.4" r="5.15" fill="#ff0654"/>
<circle cx="1081.5" cy="334.6" r="5.15" fill="#ff0654"/>
<circle cx="1081.5" cy="335.4" r="5.15" fill="#ff0654"/>
<circle cx="1090.5" cy="334.6" r="5.15" fill="#ff0654"/>
<circle cx="1090.5" cy="335.4" r="5.15" fill="#ff0654"/>
<circle cx="1094.5" cy="334.6" r="5.15" fill="#ff0654"/>
<circle cx="1094.5" cy="335.4" r="5.15" fill="#ff0654"/>
<circle cx="1098.0" cy="334.6" r="5.15" fill="#ff0654"/>
<circle cx="1098.0" cy="335.4" r="5.15" fill="#ff0654"/>
<circle cx="1101.5" cy="334.6" r="5.15" fill="#ff0654"/>
<circle cx="1101.5" cy="335.4" r="5.15" fill="#ff0654"/>
<circle cx="1109.0" cy="334.6" r="5.15" fill="#ff0654"/>
<circle cx="1109.0" cy="335.4" r="5.15" fill="#ff0654"/>
<circle cx="1112.5" cy="334.6" r="5.15" fill="#ff0654"/>
<circle cx="1112.5" cy="335.4" r="5.15" fill="#ff0654"/>
<circle cx="1125.5" cy="334.6" r="5.15" fill="#ff0654"/>
<circle cx="1125.5" cy="335.4" r="5.15" fill="#ff0654"/>
<circle cx="1129.5" cy="334.6" r="5.15" fill="#ff0654"/>
<circle cx="1129.5" cy="335.4" r="5.15" fill="#ff0654"/>
<circle cx="1086.5" cy="333.9" r="5.15" fill="#ff0654"/>
<circle cx="1086.5" cy="336.1" r="5.15" fill="#ff0654"/>
<circle cx="1105.2" cy="332.8" r="5.15" fill="#ff0654"/>
<circle cx="1105.2" cy="335.0" r="5.15" fill="#ff0654"/>
<circle cx="1105.2" cy="337.2" r="5.15" fill="#ff0654"/>
<circle cx="1116.0" cy="333.1" r="5.15" fill="#ff0654"/>
<circle cx="1116.0" cy="335.0" r="5.15" fill="#ff0654"/>
<circle cx="1116.0" cy="336.9" r="5.15" fill="#ff0654"/>
<circle cx="1121.0" cy="332.8" r="5.15" fill="#ff0654"/>
<circle cx="1121.0" cy="335.0" r="5.15" fill="#ff0654"/>
<circle cx="1121.0" cy="337.2" r="5.15" fill="#ff0654"/>
<circle cx="1134.5" cy="332.6" r="5.15" fill="#ff0654"/>
<circle cx="1134.5" cy="335.0" r="5.15" fill="#ff0654"/>
<circle cx="1134.5" cy="337.4" r="5.15" fill="#ff0654"/>
<circle cx="1131.5" cy="333.6" r="5.15" fill="#ff0654"/>
<circle cx="1131.5" cy="336.4" r="5.15" fill="#ff0654"/>
<circle cx="1147.0" cy="334.9" r="5.15" fill="#ff0654"/>
<circle cx="1147.0" cy="335.1" r="5.15" fill="#ff0654"/>
<circle cx="1155.7" cy="334.9" r="5.15" fill="#ff0654"/>
<circle cx="1155.7" cy="335.1" r="5.15" fill="#ff0654"/>
<circle cx="1165.5" cy="334.9" r="5.15" fill="#ff0654"/>
<circle cx="1165.5" cy="335.1" r="5.15" fill="#ff0654"/>
<circle cx="1174.2" cy="334.9" r="5.15" fill="#ff0654"/>
<circle cx="1174.2" cy="335.1" r="5.15" fill="#ff0654"/>
<circle cx="1183.0" cy="334.9" r="5.15" fill="#ff0654"/>
<circle cx="1183.0" cy="335.1" r="5.15" fill="#ff0654"/>
<circle cx="1188.5" cy="334.9" r="5.15" fill="#ff0654"/>
<circle cx="1188.5" cy="335.1" r="5.15" fill="#ff0654"/>
<circle cx="1199.0" cy="334.9" r="5.15" fill="#ff0654"/>
<circle cx="1199.0" cy="335.1" r="5.15" fill="#ff0654"/>
<circle cx="1204.4" cy="334.9" r="5.15" fill="#ff0654"/>
<circle cx="1204.4" cy="335.1" r="5.15" fill="#ff0654"/>
<circle cx="1151.0" cy="335.0" r="5.15" fill="#ff0654"/>
<circle cx="1193.8" cy="332.4" r="5.15" fill="#ff0654"/>
<circle cx="1193.8" cy="335.0" r="5.15" fill="#ff0654"/>
<circle cx="1193.8" cy="337.6" r="5.15" fill="#ff0654"/>
<circle cx="1191.0" cy="333.6" r="5.15" fill="#ff0654"/>
<circle cx="1191.0" cy="336.4" r="5.15" fill="#ff0654"/>
<circle cx="1233.8" cy="332.4" r="5.15" fill="#ff0654"/>
<circle cx="1236.0" cy="337.4" r="5.15" fill="#ff0654"/>
<circle cx="1266.3" cy="335.0" r="5.15" fill="#ff0654"/>
<circle cx="896.4" cy="414.8" r="5.15" fill="#048af8"/>
<circle cx="901.5" cy="413.9" r="5.15" fill="#048af8"/>
<circle cx="901.5" cy="415.7" r="5.15" fill="#048af8"/>
<circle cx="906.4" cy="410.9" r="5.15" fill="#048af8"/>
<circle cx="906.4" cy="413.5" r="5.15" fill="#048af8"/>
<circle cx="906.4" cy="416.1" r="5.15" fill="#048af8"/>
<circle cx="906.4" cy="418.7" r="5.15" fill="#048af8"/>
<circle cx="910.0" cy="413.4" r="5.15" fill="#048af8"/>
<circle cx="910.0" cy="416.2" r="5.15" fill="#048af8"/>
<circle cx="913.6" cy="414.4" r="5.15" fill="#048af8"/>
<circle cx="913.6" cy="415.2" r="5.15" fill="#048af8"/>
<circle cx="917.5" cy="412.4" r="5.15" fill="#048af8"/>
<circle cx="917.5" cy="414.8" r="5.15" fill="#048af8"/>
<circle cx="917.5" cy="417.2" r="5.15" fill="#048af8"/>
<circle cx="921.5" cy="408.9" r="5.15" fill="#048af8"/>
<circle cx="921.5" cy="411.8" r="5.15" fill="#048af8"/>
<circle cx="921.5" cy="414.8" r="5.15" fill="#048af8"/>
<circle cx="921.5" cy="417.8" r="5.15" fill="#048af8"/>
<circle cx="921.5" cy="420.8" r="5.15" fill="#048af8"/>
<circle cx="925.5" cy="412.9" r="5.15" fill="#048af8"/>
<circle cx="925.5" cy="414.8" r="5.15" fill="#048af8"/>
<circle cx="925.5" cy="416.7" r="5.15" fill="#048af8"/>
<circle cx="930.5" cy="412.9" r="5.15" fill="#048af8"/>
<circle cx="930.5" cy="414.8" r="5.15" fill="#048af8"/>
<circle cx="930.5" cy="416.7" r="5.15" fill="#048af8"/>
<circle cx="938.5" cy="394.2" r="5.15" fill="#048af8"/>
<circle cx="938.5" cy="397.3" r="5.15" fill="#048af8"/>
<circle cx="938.5" cy="400.5" r="5.15" fill="#048af8"/>
<circle cx="938.5" cy="403.7" r="5.15" fill="#048af8"/>
<circle cx="938.5" cy="406.9" r="5.15" fill="#048af8"/>
<circle cx="938.5" cy="410.0" r="5.15" fill="#048af8"/>
<circle cx="938.5" cy="413.2" r="5.15" fill="#048af8"/>
<circle cx="938.5" cy="416.4" r="5.15" fill="#048af8"/>
<circle cx="938.5" cy="419.6" r="5.15" fill="#048af8"/>
<circle cx="938.5" cy="422.7" r="5.15" fill="#048af8"/>
<circle cx="938.5" cy="425.9" r="5.15" fill="#048af8"/>
<circle cx="938.5" cy="429.1" r="5.15" fill="#048af8"/>
<circle cx="938.5" cy="432.3" r="5.15" fill="#048af8"/>
<circle cx="938.5" cy="435.4" r="5.15" fill="#048af8"/>
<circle cx="948.5" cy="402.9" r="5.15" fill="#048af8"/>
<circle cx="948.5" cy="406.3" r="5.15" fill="#048af8"/>
<circle cx="948.5" cy="409.7" r="5.15" fill="#048af8"/>
<circle cx="948.5" cy="413.1" r="5.15" fill="#048af8"/>
<circle cx="948.5" cy="416.5" r="5.15" fill="#048af8"/>
<circle cx="948.5" cy="419.9" r="5.15" fill="#048af8"/>
<circle cx="948.5" cy="423.3" r="5.15" fill="#048af8"/>
<circle cx="948.5" cy="426.7" r="5.15" fill="#048af8"/>
<circle cx="952.5" cy="408.9" r="5.15" fill="#048af8"/>
<circle cx="952.5" cy="411.9" r="5.15" fill="#048af8"/>
<circle cx="952.5" cy="414.8" r="5.15" fill="#048af8"/>
<circle cx="952.5" cy="417.7" r="5.15" fill="#048af8"/>
<circle cx="952.5" cy="420.7" r="5.15" fill="#048af8"/>
<circle cx="956.3" cy="410.1" r="5.15" fill="#048af8"/>
<circle cx="956.3" cy="413.2" r="5.15" fill="#048af8"/>
<circle cx="956.3" cy="416.4" r="5.15" fill="#048af8"/>
<circle cx="956.3" cy="419.6" r="5.15" fill="#048af8"/>
<circle cx="960.0" cy="408.9" r="5.15" fill="#048af8"/>
<circle cx="960.0" cy="411.9" r="5.15" fill="#048af8"/>
<circle cx="960.0" cy="414.8" r="5.15" fill="#048af8"/>
<circle cx="960.0" cy="417.7" r="5.15" fill="#048af8"/>
<circle cx="960.0" cy="420.7" r="5.15" fill="#048af8"/>
<circle cx="964.1" cy="407.9" r="5.15" fill="#048af8"/>
<circle cx="964.1" cy="410.7" r="5.15" fill="#048af8"/>
<circle cx="964.1" cy="413.4" r="5.15" fill="#048af8"/>
<circle cx="964.1" cy="416.2" r="5.15" fill="#048af8"/>
<circle cx="964.1" cy="418.9" r="5.15" fill="#048af8"/>
<circle cx="964.1" cy="421.7" r="5.15" fill="#048af8"/>
<circle cx="968.5" cy="409.4" r="5.15" fill="#048af8"/>
<circle cx="968.5" cy="412.1" r="5.15" fill="#048af8"/>
<circle cx="968.5" cy="414.8" r="5.15" fill="#048af8"/>
<circle cx="968.5" cy="417.5" r="5.15" fill="#048af8"/>
<circle cx="968.5" cy="420.2" r="5.15" fill="#048af8"/>
<circle cx="974.9" cy="397.7" r="5.15" fill="#048af8"/>
<circle cx="974.9" cy="400.8" r="5.15" fill="#048af8"/>
<circle cx="974.9" cy="403.9" r="5.15" fill="#048af8"/>
<circle cx="974.9" cy="407.0" r="5.15" fill="#048af8"/>
<circle cx="974.9" cy="410.1" r="5.15" fill="#048af8"/>
<circle cx="974.9" cy="413.2" r="5.15" fill="#048af8"/>
<circle cx="974.9" cy="416.4" r="5.15" fill="#048af8"/>
<circle cx="974.9" cy="419.5" r="5.15" fill="#048af8"/>
<circle cx="974.9" cy="422.6" r="5.15" fill="#048af8"/>
<circle cx="974.9" cy="425.7" r="5.15" fill="#048af8"/>
<circle cx="974.9" cy="428.8" r="5.15" fill="#048af8"/>
<circle cx="974.9" cy="431.9" r="5.15" fill="#048af8"/>
<circle cx="979.5" cy="402.4" r="5.15" fill="#048af8"/>
<circle cx="979.5" cy="405.5" r="5.15" fill="#048af8"/>
<circle cx="979.5" cy="408.6" r="5.15" fill="#048af8"/>
<circle cx="979.5" cy="411.7" r="5.15" fill="#048af8"/>
<circle cx="979.5" cy="414.8" r="5.15" fill="#048af8"/>
<circle cx="979.5" cy="417.9" r="5.15" fill="#048af8"/>
<circle cx="979.5" cy="421.0" r="5.15" fill="#048af8"/>
<circle cx="979.5" cy="424.1" r="5.15" fill="#048af8"/>
<circle cx="979.5" cy="427.2" r="5.15" fill="#048af8"/>
<circle cx="983.0" cy="406.9" r="5.15" fill="#048af8"/>
<circle cx="983.0" cy="410.1" r="5.15" fill="#048af8"/>
<circle cx="983.0" cy="413.2" r="5.15" fill="#048af8"/>
<circle cx="983.0" cy="416.4" r="5.15" fill="#048af8"/>
<circle cx="983.0" cy="419.5" r="5.15" fill="#048af8"/>
<circle cx="983.0" cy="422.7" r="5.15" fill="#048af8"/>
<circle cx="984.2" cy="401.5" r="5.15" fill="#ff0654"/>
<circle cx="988.5" cy="402.2" r="5.15" fill="#ff0654"/>
<circle cx="992.5" cy="403.8" r="5.15" fill="#ff0654"/>
<circle cx="984.3" cy="423.0" r="5.15" fill="#ff0654"/>
<circle cx="988.4" cy="424.3" r="5.15" fill="#ff0654"/>
<circle cx="992.5" cy="423.8" r="5.15" fill="#ff0654"/>
<circle cx="995.5" cy="423.3" r="5.15" fill="#ff0654"/>
<circle cx="986.0" cy="425.8" r="5.15" fill="#ff0654"/>
<circle cx="990.0" cy="424.8" r="5.15" fill="#ff0654"/>
<circle cx="996.0" cy="405.8" r="5.15" fill="#ff0654"/>
<circle cx="996.0" cy="422.8" r="5.15" fill="#ff0654"/>
<circle cx="988.0" cy="410.5" r="5.15" fill="#048af8"/>
<circle cx="992.5" cy="411.0" r="5.15" fill="#048af8"/>
<circle cx="997.5" cy="405.9" r="5.15" fill="#ff0654"/>
<circle cx="997.5" cy="408.9" r="5.15" fill="#ff0654"/>
<circle cx="997.5" cy="411.9" r="5.15" fill="#ff0654"/>
<circle cx="997.5" cy="414.8" r="5.15" fill="#ff0654"/>
<circle cx="997.5" cy="417.8" r="5.15" fill="#ff0654"/>
<circle cx="997.5" cy="420.7" r="5.15" fill="#ff0654"/>
<circle cx="997.5" cy="423.7" r="5.15" fill="#ff0654"/>
<circle cx="995.5" cy="410.8" r="5.15" fill="#048af8"/>
<circle cx="1001.8" cy="394.7" r="5.15" fill="#ff0654"/>
<circle cx="1001.8" cy="398.0" r="5.15" fill="#ff0654"/>
<circle cx="1001.8" cy="401.4" r="5.15" fill="#ff0654"/>
<circle cx="1001.8" cy="404.7" r="5.15" fill="#ff0654"/>
<circle cx="1001.8" cy="408.1" r="5.15" fill="#ff0654"/>
<circle cx="1001.8" cy="411.4" r="5.15" fill="#ff0654"/>
<circle cx="1001.8" cy="414.8" r="5.15" fill="#ff0654"/>
<circle cx="1001.8" cy="418.2" r="5.15" fill="#ff0654"/>
<circle cx="1001.8" cy="421.5" r="5.15" fill="#ff0654"/>
<circle cx="1001.8" cy="424.9" r="5.15" fill="#ff0654"/>
<circle cx="1001.8" cy="428.2" r="5.15" fill="#ff0654"/>
<circle cx="1001.8" cy="431.6" r="5.15" fill="#ff0654"/>
<circle cx="1001.8" cy="434.9" r="5.15" fill="#ff0654"/>
<circle cx="1001.8" cy="438.3" r="5.15" fill="#ff0654"/>
<circle cx="1001.8" cy="441.7" r="5.15" fill="#ff0654"/>
<circle cx="1005.5" cy="393.9" r="5.15" fill="#ff0654"/>
<circle cx="1005.5" cy="397.2" r="5.15" fill="#ff0654"/>
<circle cx="1005.5" cy="400.4" r="5.15" fill="#ff0654"/>
<circle cx="1005.5" cy="403.6" r="5.15" fill="#ff0654"/>
<circle cx="1005.5" cy="406.8" r="5.15" fill="#ff0654"/>
<circle cx="1005.5" cy="410.0" r="5.15" fill="#ff0654"/>
<circle cx="1005.5" cy="413.2" r="5.15" fill="#ff0654"/>
<circle cx="1005.5" cy="416.4" r="5.15" fill="#ff0654"/>
<circle cx="1005.5" cy="419.6" r="5.15" fill="#ff0654"/>
<circle cx="1005.5" cy="422.8" r="5.15" fill="#ff0654"/>
<circle cx="1005.5" cy="426.0" r="5.15" fill="#ff0654"/>
<circle cx="1005.5" cy="429.2" r="5.15" fill="#ff0654"/>
<circle cx="1005.5" cy="432.4" r="5.15" fill="#ff0654"/>
<circle cx="1005.5" cy="435.7" r="5.15" fill="#ff0654"/>
<circle cx="1009.0" cy="396.6" r="5.15" fill="#ff0654"/>
<circle cx="1009.0" cy="399.9" r="5.15" fill="#ff0654"/>
<circle cx="1009.0" cy="403.2" r="5.15" fill="#ff0654"/>
<circle cx="1009.0" cy="406.5" r="5.15" fill="#ff0654"/>
<circle cx="1009.0" cy="409.8" r="5.15" fill="#ff0654"/>
<circle cx="1009.0" cy="413.1" r="5.15" fill="#ff0654"/>
<circle cx="1009.0" cy="416.5" r="5.15" fill="#ff0654"/>
<circle cx="1009.0" cy="419.8" r="5.15" fill="#ff0654"/>
<circle cx="1009.0" cy="423.1" r="5.15" fill="#ff0654"/>
<circle cx="1009.0" cy="426.4" r="5.15" fill="#ff0654"/>
<circle cx="1009.0" cy="429.7" r="5.15" fill="#ff0654"/>
<circle cx="1009.0" cy="433.1" r="5.15" fill="#ff0654"/>
<circle cx="1013.0" cy="406.9" r="5.15" fill="#ff0654"/>
<circle cx="1013.0" cy="410.1" r="5.15" fill="#ff0654"/>
<circle cx="1013.0" cy="413.2" r="5.15" fill="#ff0654"/>
<circle cx="1013.0" cy="416.4" r="5.15" fill="#ff0654"/>
<circle cx="1013.0" cy="419.5" r="5.15" fill="#ff0654"/>
<circle cx="1013.0" cy="422.7" r="5.15" fill="#ff0654"/>
<circle cx="1001.8" cy="390.8" r="5.15" fill="#048af8"/>
<circle cx="1002.0" cy="387.9" r="5.15" fill="#ff0654"/>
<circle cx="1019.9" cy="402.6" r="5.15" fill="#ff0654"/>
<circle cx="1019.9" cy="405.8" r="5.15" fill="#ff0654"/>
<circle cx="1019.9" cy="408.8" r="5.15" fill="#ff0654"/>
<circle cx="1016.0" cy="409.8" r="5.15" fill="#ff0654"/>
<circle cx="1023.0" cy="410.8" r="5.15" fill="#ff0654"/>
<circle cx="1024.5" cy="410.9" r="5.15" fill="#ff0654"/>
<circle cx="1024.5" cy="413.5" r="5.15" fill="#ff0654"/>
<circle cx="1024.5" cy="416.1" r="5.15" fill="#ff0654"/>
<circle cx="1024.5" cy="418.7" r="5.15" fill="#ff0654"/>
<circle cx="1028.9" cy="409.2" r="5.15" fill="#ff0654"/>
<circle cx="1028.9" cy="412.0" r="5.15" fill="#ff0654"/>
<circle cx="1028.9" cy="414.8" r="5.15" fill="#ff0654"/>
<circle cx="1028.9" cy="417.6" r="5.15" fill="#ff0654"/>
<circle cx="1028.9" cy="420.4" r="5.15" fill="#ff0654"/>
<circle cx="1033.0" cy="408.9" r="5.15" fill="#ff0654"/>
<circle cx="1033.0" cy="411.9" r="5.15" fill="#ff0654"/>
<circle cx="1033.0" cy="414.8" r="5.15" fill="#ff0654"/>
<circle cx="1033.0" cy="417.7" r="5.15" fill="#ff0654"/>
<circle cx="1033.0" cy="420.7" r="5.15" fill="#ff0654"/>
<circle cx="1036.5" cy="405.9" r="5.15" fill="#ff0654"/>
<circle cx="1036.5" cy="408.9" r="5.15" fill="#ff0654"/>
<circle cx="1036.5" cy="411.9" r="5.15" fill="#ff0654"/>
<circle cx="1036.5" cy="414.8" r="5.15" fill="#ff0654"/>
<circle cx="1036.5" cy="417.8" r="5.15" fill="#ff0654"/>
<circle cx="1036.5" cy="420.7" r="5.15" fill="#ff0654"/>
<circle cx="1036.5" cy="423.7" r="5.15" fill="#ff0654"/>
<circle cx="1040.3" cy="401.4" r="5.15" fill="#ff0654"/>
<circle cx="1040.3" cy="404.8" r="5.15" fill="#ff0654"/>
<circle cx="1040.3" cy="408.1" r="5.15" fill="#ff0654"/>
<circle cx="1040.3" cy="411.5" r="5.15" fill="#ff0654"/>
<circle cx="1040.3" cy="414.8" r="5.15" fill="#ff0654"/>
<circle cx="1040.3" cy="418.1" r="5.15" fill="#ff0654"/>
<circle cx="1040.3" cy="421.5" r="5.15" fill="#ff0654"/>
<circle cx="1040.3" cy="424.8" r="5.15" fill="#ff0654"/>
<circle cx="1040.3" cy="428.2" r="5.15" fill="#ff0654"/>
<circle cx="1043.5" cy="404.9" r="5.15" fill="#ff0654"/>
<circle cx="1043.5" cy="408.2" r="5.15" fill="#ff0654"/>
<circle cx="1043.5" cy="411.5" r="5.15" fill="#ff0654"/>
<circle cx="1043.5" cy="414.8" r="5.15" fill="#ff0654"/>
<circle cx="1043.5" cy="418.1" r="5.15" fill="#ff0654"/>
<circle cx="1043.5" cy="421.4" r="5.15" fill="#ff0654"/>
<circle cx="1043.5" cy="424.7" r="5.15" fill="#ff0654"/>
<circle cx="1045.7" cy="406.9" r="5.15" fill="#ff0654"/>
<circle cx="1045.7" cy="410.1" r="5.15" fill="#ff0654"/>
<circle cx="1045.7" cy="413.2" r="5.15" fill="#ff0654"/>
<circle cx="1045.7" cy="416.4" r="5.15" fill="#ff0654"/>
<circle cx="1045.7" cy="419.5" r="5.15" fill="#ff0654"/>
<circle cx="1045.7" cy="422.7" r="5.15" fill="#ff0654"/>
<circle cx="1049.5" cy="410.9" r="5.15" fill="#ff0654"/>
<circle cx="1049.5" cy="413.5" r="5.15" fill="#ff0654"/>
<circle cx="1049.5" cy="416.1" r="5.15" fill="#ff0654"/>
<circle cx="1049.5" cy="418.7" r="5.15" fill="#ff0654"/>
<circle cx="1052.9" cy="412.2" r="5.15" fill="#ff0654"/>
<circle cx="1052.9" cy="414.8" r="5.15" fill="#ff0654"/>
<circle cx="1052.9" cy="417.4" r="5.15" fill="#ff0654"/>
<circle cx="1058.0" cy="411.9" r="5.15" fill="#ff0654"/>
<circle cx="1058.0" cy="414.8" r="5.15" fill="#ff0654"/>
<circle cx="1058.0" cy="417.7" r="5.15" fill="#ff0654"/>
<circle cx="1063.4" cy="409.8" r="5.15" fill="#ff0654"/>
<circle cx="1063.4" cy="413.1" r="5.15" fill="#ff0654"/>
<circle cx="1063.4" cy="416.5" r="5.15" fill="#ff0654"/>
<circle cx="1063.4" cy="419.9" r="5.15" fill="#ff0654"/>
<circle cx="1019.9" cy="413.3" r="5.15" fill="#048af8"/>
<circle cx="1019.9" cy="415.3" r="5.15" fill="#048af8"/>
<circle cx="1013.2" cy="413.8" r="5.15" fill="#ff0654"/>
<circle cx="1026.6" cy="413.8" r="5.15" fill="#ff0654"/>
<circle cx="1019.7" cy="424.8" r="5.15" fill="#048af8"/>
<circle cx="963.5" cy="491.1" r="5.15" fill="#048af8"/>
<circle cx="963.5" cy="493.4" r="5.15" fill="#048af8"/>
<circle cx="963.5" cy="495.8" r="5.15" fill="#048af8"/>
<circle cx="963.5" cy="498.2" r="5.15" fill="#048af8"/>
<circle cx="965.5" cy="486.6" r="5.15" fill="#048af8"/>
<circle cx="965.5" cy="489.8" r="5.15" fill="#048af8"/>
<circle cx="965.5" cy="493.0" r="5.15" fill="#048af8"/>
<circle cx="965.5" cy="496.2" r="5.15" fill="#048af8"/>
<circle cx="965.5" cy="499.4" r="5.15" fill="#048af8"/>
<circle cx="965.5" cy="502.7" r="5.15" fill="#048af8"/>
<circle cx="968.5" cy="482.4" r="5.15" fill="#048af8"/>
<circle cx="968.5" cy="485.4" r="5.15" fill="#048af8"/>
<circle cx="968.5" cy="488.5" r="5.15" fill="#048af8"/>
<circle cx="968.5" cy="491.5" r="5.15" fill="#048af8"/>
<circle cx="968.5" cy="494.6" r="5.15" fill="#048af8"/>
<circle cx="968.5" cy="497.7" r="5.15" fill="#048af8"/>
<circle cx="968.5" cy="500.7" r="5.15" fill="#048af8"/>
<circle cx="968.5" cy="503.8" r="5.15" fill="#048af8"/>
<circle cx="968.5" cy="506.9" r="5.15" fill="#048af8"/>
<circle cx="971.0" cy="479.2" r="5.15" fill="#048af8"/>
<circle cx="971.0" cy="482.3" r="5.15" fill="#048af8"/>
<circle cx="971.0" cy="485.4" r="5.15" fill="#048af8"/>
<circle cx="971.0" cy="488.5" r="5.15" fill="#048af8"/>
<circle cx="971.0" cy="491.5" r="5.15" fill="#048af8"/>
<circle cx="971.0" cy="494.6" r="5.15" fill="#048af8"/>
<circle cx="971.0" cy="497.7" r="5.15" fill="#048af8"/>
<circle cx="971.0" cy="500.7" r="5.15" fill="#048af8"/>
<circle cx="971.0" cy="503.8" r="5.15" fill="#048af8"/>
<circle cx="971.0" cy="506.9" r="5.15" fill="#048af8"/>
<circle cx="971.0" cy="510.0" r="5.15" fill="#048af8"/>
<circle cx="974.0" cy="476.6" r="5.15" fill="#048af8"/>
<circle cx="974.0" cy="479.8" r="5.15" fill="#048af8"/>
<circle cx="974.0" cy="483.1" r="5.15" fill="#048af8"/>
<circle cx="974.0" cy="486.4" r="5.15" fill="#048af8"/>
<circle cx="974.0" cy="489.7" r="5.15" fill="#048af8"/>
<circle cx="974.0" cy="493.0" r="5.15" fill="#048af8"/>
<circle cx="974.0" cy="496.2" r="5.15" fill="#048af8"/>
<circle cx="974.0" cy="499.5" r="5.15" fill="#048af8"/>
<circle cx="974.0" cy="502.8" r="5.15" fill="#048af8"/>
<circle cx="974.0" cy="506.1" r="5.15" fill="#048af8"/>
<circle cx="974.0" cy="509.4" r="5.15" fill="#048af8"/>
<circle cx="974.0" cy="512.6" r="5.15" fill="#048af8"/>
<circle cx="977.7" cy="466.7" r="5.15" fill="#048af8"/>
<circle cx="977.7" cy="469.9" r="5.15" fill="#048af8"/>
<circle cx="977.7" cy="473.2" r="5.15" fill="#048af8"/>
<circle cx="977.7" cy="476.5" r="5.15" fill="#048af8"/>
<circle cx="977.7" cy="479.8" r="5.15" fill="#048af8"/>
<circle cx="977.7" cy="483.1" r="5.15" fill="#048af8"/>
<circle cx="977.7" cy="486.4" r="5.15" fill="#048af8"/>
<circle cx="977.7" cy="489.7" r="5.15" fill="#048af8"/>
<circle cx="977.7" cy="493.0" r="5.15" fill="#048af8"/>
<circle cx="977.7" cy="496.2" r="5.15" fill="#048af8"/>
<circle cx="977.7" cy="499.5" r="5.15" fill="#048af8"/>
<circle cx="977.7" cy="502.8" r="5.15" fill="#048af8"/>
<circle cx="977.7" cy="506.1" r="5.15" fill="#048af8"/>
<circle cx="977.7" cy="509.4" r="5.15" fill="#048af8"/>
<circle cx="977.7" cy="512.7" r="5.15" fill="#048af8"/>
<circle cx="977.7" cy="516.0" r="5.15" fill="#048af8"/>
<circle cx="977.7" cy="519.3" r="5.15" fill="#048af8"/>
<circle cx="977.7" cy="522.6" r="5.15" fill="#048af8"/>
<circle cx="981.0" cy="486.0" r="5.15" fill="#048af8"/>
<circle cx="981.0" cy="488.8" r="5.15" fill="#048af8"/>
<circle cx="981.0" cy="491.7" r="5.15" fill="#048af8"/>
<circle cx="981.0" cy="494.6" r="5.15" fill="#048af8"/>
<circle cx="981.0" cy="497.5" r="5.15" fill="#048af8"/>
<circle cx="981.0" cy="500.4" r="5.15" fill="#048af8"/>
<circle cx="981.0" cy="503.2" r="5.15" fill="#048af8"/>
<circle cx="1045.8" cy="494.0" r="5.15" fill="#ff0654"/>
<circle cx="1045.8" cy="495.2" r="5.15" fill="#ff0654"/>
<circle cx="1050.0" cy="494.0" r="5.15" fill="#ff0654"/>
<circle cx="1050.0" cy="495.2" r="5.15" fill="#ff0654"/>
<circle cx="1054.1" cy="494.0" r="5.15" fill="#ff0654"/>
<circle cx="1054.1" cy="495.2" r="5.15" fill="#ff0654"/>
<circle cx="1058.2" cy="494.0" r="5.15" fill="#ff0654"/>
<circle cx="1058.2" cy="495.2" r="5.15" fill="#ff0654"/>
<circle cx="1062.4" cy="494.0" r="5.15" fill="#ff0654"/>
<circle cx="1062.4" cy="495.2" r="5.15" fill="#ff0654"/>
<circle cx="1066.5" cy="494.0" r="5.15" fill="#ff0654"/>
<circle cx="1066.5" cy="495.2" r="5.15" fill="#ff0654"/>
<circle cx="1070.7" cy="494.0" r="5.15" fill="#ff0654"/>
<circle cx="1070.7" cy="495.2" r="5.15" fill="#ff0654"/>
<circle cx="1074.8" cy="494.0" r="5.15" fill="#ff0654"/>
<circle cx="1074.8" cy="495.2" r="5.15" fill="#ff0654"/>
<circle cx="1079.0" cy="494.0" r="5.15" fill="#ff0654"/>
<circle cx="1079.0" cy="495.2" r="5.15" fill="#ff0654"/>
<circle cx="1083.1" cy="494.0" r="5.15" fill="#ff0654"/>
<circle cx="1083.1" cy="495.2" r="5.15" fill="#ff0654"/>
<circle cx="1087.3" cy="494.0" r="5.15" fill="#ff0654"/>
<circle cx="1087.3" cy="495.2" r="5.15" fill="#ff0654"/>
<circle cx="1091.5" cy="494.0" r="5.15" fill="#ff0654"/>
<circle cx="1091.5" cy="495.2" r="5.15" fill="#ff0654"/>
<circle cx="1095.6" cy="494.0" r="5.15" fill="#ff0654"/>
<circle cx="1095.6" cy="495.2" r="5.15" fill="#ff0654"/>
<circle cx="1098.3" cy="494.0" r="5.15" fill="#ff0654"/>
<circle cx="1098.3" cy="495.2" r="5.15" fill="#ff0654"/>
<circle cx="1105.2" cy="494.0" r="5.15" fill="#ff0654"/>
<circle cx="1105.2" cy="495.2" r="5.15" fill="#ff0654"/>
<circle cx="1108.0" cy="494.0" r="5.15" fill="#ff0654"/>
<circle cx="1108.0" cy="495.2" r="5.15" fill="#ff0654"/>
<circle cx="1066.8" cy="492.6" r="5.15" fill="#ff0654"/>
<circle cx="1066.8" cy="494.6" r="5.15" fill="#ff0654"/>
<circle cx="1066.8" cy="496.7" r="5.15" fill="#ff0654"/>
<circle cx="1050.0" cy="493.2" r="5.15" fill="#ff0654"/>
<circle cx="1050.0" cy="496.1" r="5.15" fill="#ff0654"/>
<circle cx="1090.0" cy="493.5" r="5.15" fill="#ff0654"/>
<circle cx="1090.0" cy="495.8" r="5.15" fill="#ff0654"/>
<circle cx="1107.0" cy="493.6" r="5.15" fill="#ff0654"/>
<circle cx="1107.0" cy="495.7" r="5.15" fill="#ff0654"/>
<circle cx="1127.3" cy="494.6" r="5.15" fill="#ff0654"/>
<circle cx="1128.9" cy="494.6" r="5.15" fill="#ff0654"/>
<circle cx="1145.8" cy="494.6" r="5.15" fill="#ff0654"/>
<circle cx="971.9" cy="571.5" r="5.15" fill="#048af8"/>
<circle cx="971.9" cy="574.4" r="5.15" fill="#048af8"/>
<circle cx="971.9" cy="577.2" r="5.15" fill="#048af8"/>
<circle cx="975.0" cy="569.0" r="5.15" fill="#048af8"/>
<circle cx="975.0" cy="571.7" r="5.15" fill="#048af8"/>
<circle cx="975.0" cy="574.4" r="5.15" fill="#048af8"/>
<circle cx="975.0" cy="577.1" r="5.15" fill="#048af8"/>
<circle cx="975.0" cy="579.8" r="5.15" fill="#048af8"/>
<circle cx="979.9" cy="547.0" r="5.15" fill="#048af8"/>
<circle cx="979.9" cy="550.3" r="5.15" fill="#048af8"/>
<circle cx="979.9" cy="553.5" r="5.15" fill="#048af8"/>
<circle cx="979.9" cy="556.7" r="5.15" fill="#048af8"/>
<circle cx="979.9" cy="559.9" r="5.15" fill="#048af8"/>
<circle cx="979.9" cy="563.1" r="5.15" fill="#048af8"/>
<circle cx="979.9" cy="566.4" r="5.15" fill="#048af8"/>
<circle cx="979.9" cy="569.6" r="5.15" fill="#048af8"/>
<circle cx="979.9" cy="572.8" r="5.15" fill="#048af8"/>
<circle cx="979.9" cy="576.0" r="5.15" fill="#048af8"/>
<circle cx="979.9" cy="579.2" r="5.15" fill="#048af8"/>
<circle cx="979.9" cy="582.4" r="5.15" fill="#048af8"/>
<circle cx="979.9" cy="585.7" r="5.15" fill="#048af8"/>
<circle cx="979.9" cy="588.9" r="5.15" fill="#048af8"/>
<circle cx="979.9" cy="592.1" r="5.15" fill="#048af8"/>
<circle cx="979.9" cy="595.3" r="5.15" fill="#048af8"/>
<circle cx="979.9" cy="598.5" r="5.15" fill="#048af8"/>
<circle cx="979.9" cy="601.8" r="5.15" fill="#048af8"/>
<circle cx="983.2" cy="547.5" r="5.15" fill="#048af8"/>
<circle cx="983.2" cy="550.9" r="5.15" fill="#048af8"/>
<circle cx="983.2" cy="554.3" r="5.15" fill="#048af8"/>
<circle cx="983.2" cy="557.6" r="5.15" fill="#048af8"/>
<circle cx="983.2" cy="561.0" r="5.15" fill="#048af8"/>
<circle cx="983.2" cy="564.3" r="5.15" fill="#048af8"/>
<circle cx="983.2" cy="567.7" r="5.15" fill="#048af8"/>
<circle cx="983.2" cy="571.0" r="5.15" fill="#048af8"/>
<circle cx="983.2" cy="574.4" r="5.15" fill="#048af8"/>
<circle cx="983.2" cy="577.8" r="5.15" fill="#048af8"/>
<circle cx="983.2" cy="581.1" r="5.15" fill="#048af8"/>
<circle cx="983.2" cy="584.5" r="5.15" fill="#048af8"/>
<circle cx="983.2" cy="587.8" r="5.15" fill="#048af8"/>
<circle cx="983.2" cy="591.2" r="5.15" fill="#048af8"/>
<circle cx="983.2" cy="594.5" r="5.15" fill="#048af8"/>
<circle cx="983.2" cy="597.9" r="5.15" fill="#048af8"/>
<circle cx="983.2" cy="601.2" r="5.15" fill="#048af8"/>
<circle cx="986.4" cy="547.0" r="5.15" fill="#048af8"/>
<circle cx="986.4" cy="550.3" r="5.15" fill="#048af8"/>
<circle cx="986.4" cy="553.5" r="5.15" fill="#048af8"/>
<circle cx="986.4" cy="556.7" r="5.15" fill="#048af8"/>
<circle cx="986.4" cy="559.9" r="5.15" fill="#048af8"/>
<circle cx="986.4" cy="563.1" r="5.15" fill="#048af8"/>
<circle cx="986.4" cy="566.4" r="5.15" fill="#048af8"/>
<circle cx="986.4" cy="569.6" r="5.15" fill="#048af8"/>
<circle cx="986.4" cy="572.8" r="5.15" fill="#048af8"/>
<circle cx="986.4" cy="576.0" r="5.15" fill="#048af8"/>
<circle cx="986.4" cy="579.2" r="5.15" fill="#048af8"/>
<circle cx="986.4" cy="582.4" r="5.15" fill="#048af8"/>
<circle cx="986.4" cy="585.7" r="5.15" fill="#048af8"/>
<circle cx="986.4" cy="588.9" r="5.15" fill="#048af8"/>
<circle cx="986.4" cy="592.1" r="5.15" fill="#048af8"/>
<circle cx="986.4" cy="595.3" r="5.15" fill="#048af8"/>
<circle cx="986.4" cy="598.5" r="5.15" fill="#048af8"/>
<circle cx="986.4" cy="601.8" r="5.15" fill="#048af8"/>
<circle cx="994.0" cy="573.5" r="5.15" fill="#9a29b2"/>
<circle cx="994.0" cy="575.2" r="5.15" fill="#9a29b2"/>
<circle cx="998.0" cy="573.5" r="5.15" fill="#9a29b2"/>
<circle cx="998.0" cy="575.2" r="5.15" fill="#9a29b2"/>
<circle cx="1002.0" cy="573.4" r="5.15" fill="#9a29b2"/>
<circle cx="1002.0" cy="575.4" r="5.15" fill="#9a29b2"/>
<circle cx="1006.0" cy="573.5" r="5.15" fill="#9a29b2"/>
<circle cx="1006.0" cy="575.2" r="5.15" fill="#9a29b2"/>
<circle cx="1010.0" cy="573.5" r="5.15" fill="#9a29b2"/>
<circle cx="1010.0" cy="575.2" r="5.15" fill="#9a29b2"/>
<circle cx="1014.2" cy="573.5" r="5.15" fill="#9a29b2"/>
<circle cx="1014.2" cy="575.2" r="5.15" fill="#9a29b2"/>
<circle cx="1037.5" cy="574.4" r="5.15" fill="#9a29b2"/>
<circle cx="1018.5" cy="573.9" r="5.15" fill="#ff0654"/>
<circle cx="1018.5" cy="574.9" r="5.15" fill="#ff0654"/>
<circle cx="1022.0" cy="573.4" r="5.15" fill="#ff0654"/>
<circle cx="1022.0" cy="575.4" r="5.15" fill="#ff0654"/>
<circle cx="1025.6" cy="572.5" r="5.15" fill="#ff0654"/>
<circle cx="1025.6" cy="574.4" r="5.15" fill="#ff0654"/>
<circle cx="1025.6" cy="576.2" r="5.15" fill="#ff0654"/>
<circle cx="1031.0" cy="573.9" r="5.15" fill="#ff0654"/>
<circle cx="1031.0" cy="574.9" r="5.15" fill="#ff0654"/>
<circle cx="1034.7" cy="573.4" r="5.15" fill="#ff0654"/>
<circle cx="1034.7" cy="575.4" r="5.15" fill="#ff0654"/>
<circle cx="1027.0" cy="575.8" r="5.15" fill="#9a29b2"/>
<circle cx="1048.7" cy="574.4" r="5.15" fill="#ff0654"/>
<circle cx="1051.5" cy="574.4" r="5.15" fill="#ff0654"/>
<circle cx="1050.0" cy="575.9" r="5.15" fill="#ff0654"/>
<circle cx="1050.0" cy="572.9" r="5.15" fill="#ff0654"/>
<circle cx="1060.3" cy="574.4" r="5.15" fill="#ff0654"/>
<circle cx="1081.4" cy="574.4" r="5.15" fill="#ff0654"/>
<circle cx="1092.7" cy="574.4" r="5.15" fill="#ff0654"/>
<circle cx="1113.4" cy="574.4" r="5.15" fill="#ff0654"/>
<circle cx="1134.3" cy="574.4" r="5.15" fill="#ff0654"/>
</g>
<rect x="1329.2" y="15.6" width="8" height="639" fill="url(#cb)"/>
<line x1="791.8" x2="1299.2" y1="654.6" y2="654.6" stroke="#111" stroke-width="2.4"/>
<g stroke="#111" stroke-width="2.1"><line x1="852.5" x2="852.5" y1="654.6" y2="663.9"/><line x1="989.3" x2="989.3" y1="654.6" y2="663.9"/><line x1="1126.7" x2="1126.7" y1="654.6" y2="663.9"/><line x1="1264.1" x2="1264.1" y1="654.6" y2="663.9"/></g>
<g id="labels" style="opacity:0.999">
<g font-size="34.68" fill="#1c1c1c" stroke="#1c1c1c" stroke-width="0.25"><text x="2.51" y="108.00" textLength="24.90" lengthAdjust="spacingAndGlyphs">D</text><text x="28.63" y="108.00" textLength="7.58" lengthAdjust="spacingAndGlyphs">i</text><text x="37.33" y="108.00" textLength="20.16" lengthAdjust="spacingAndGlyphs">d</text><text x="69.27" y="108.00" textLength="20.36" lengthAdjust="spacingAndGlyphs">P</text><text x="88.49" y="108.00" textLength="14.25" lengthAdjust="spacingAndGlyphs">r</text><text x="101.61" y="108.00" textLength="20.05" lengthAdjust="spacingAndGlyphs">e</text><text x="122.12" y="108.00" textLength="20.16" lengthAdjust="spacingAndGlyphs">g</text><text x="143.61" y="108.00" textLength="19.98" lengthAdjust="spacingAndGlyphs">n</text><text x="164.68" y="108.00" textLength="16.97" lengthAdjust="spacingAndGlyphs">a</text><text x="185.18" y="108.00" textLength="19.98" lengthAdjust="spacingAndGlyphs">n</text><text x="206.12" y="108.00" textLength="16.71" lengthAdjust="spacingAndGlyphs">c</text><text x="224.92" y="108.00" textLength="17.92" lengthAdjust="spacingAndGlyphs">y</text><text x="255.33" y="108.00" textLength="31.04" lengthAdjust="spacingAndGlyphs">W</text><text x="285.70" y="108.00" textLength="20.05" lengthAdjust="spacingAndGlyphs">e</text><text x="306.79" y="108.00" textLength="7.58" lengthAdjust="spacingAndGlyphs">i</text><text x="315.48" y="108.00" textLength="20.16" lengthAdjust="spacingAndGlyphs">g</text><text x="336.84" y="108.00" textLength="20.13" lengthAdjust="spacingAndGlyphs">h</text><text x="357.86" y="108.00" textLength="12.05" lengthAdjust="spacingAndGlyphs">t</text><text x="381.39" y="108.00" textLength="25.27" lengthAdjust="spacingAndGlyphs">G</text><text x="407.56" y="108.00" textLength="16.97" lengthAdjust="spacingAndGlyphs">a</text><text x="428.31" y="108.00" textLength="7.58" lengthAdjust="spacingAndGlyphs">i</text><text x="437.33" y="108.00" textLength="19.98" lengthAdjust="spacingAndGlyphs">n</text><text x="468.75" y="108.00" textLength="22.34" lengthAdjust="spacingAndGlyphs">C</text><text x="492.28" y="108.00" textLength="16.97" lengthAdjust="spacingAndGlyphs">a</text><text x="512.66" y="108.00" textLength="19.98" lengthAdjust="spacingAndGlyphs">u</text><text x="534.23" y="108.00" textLength="15.99" lengthAdjust="spacingAndGlyphs">s</text><text x="550.99" y="108.00" textLength="20.05" lengthAdjust="spacingAndGlyphs">e</text><text x="582.23" y="108.00" textLength="24.90" lengthAdjust="spacingAndGlyphs">D</text><text x="608.35" y="108.00" textLength="7.58" lengthAdjust="spacingAndGlyphs">i</text><text x="617.67" y="108.00" textLength="15.99" lengthAdjust="spacingAndGlyphs">s</text><text x="634.50" y="108.00" textLength="12.05" lengthAdjust="spacingAndGlyphs">t</text><text x="647.36" y="108.00" textLength="14.25" lengthAdjust="spacingAndGlyphs">r</text><text x="660.49" y="108.00" textLength="20.05" lengthAdjust="spacingAndGlyphs">e</text><text x="681.62" y="108.00" textLength="15.99" lengthAdjust="spacingAndGlyphs">s</text><text x="699.00" y="108.00" textLength="15.99" lengthAdjust="spacingAndGlyphs">s</text><text x="715.74" y="108.00" textLength="16.97" lengthAdjust="spacingAndGlyphs">?</text></g>
<g font-size="34.68" fill="#1c1c1c" stroke="#1c1c1c" stroke-width="0.25"><text x="178.34" y="188.00" textLength="22.34" lengthAdjust="spacingAndGlyphs">C</text><text x="201.81" y="188.00" textLength="19.98" lengthAdjust="spacingAndGlyphs">u</text><text x="222.63" y="188.00" textLength="14.25" lengthAdjust="spacingAndGlyphs">r</text><text x="235.75" y="188.00" textLength="14.25" lengthAdjust="spacingAndGlyphs">r</text><text x="248.87" y="188.00" textLength="20.05" lengthAdjust="spacingAndGlyphs">e</text><text x="269.70" y="188.00" textLength="19.98" lengthAdjust="spacingAndGlyphs">n</text><text x="290.59" y="188.00" textLength="12.05" lengthAdjust="spacingAndGlyphs">t</text><text x="314.42" y="188.00" textLength="27.74" lengthAdjust="spacingAndGlyphs">M</text><text x="343.22" y="188.00" textLength="16.97" lengthAdjust="spacingAndGlyphs">a</text><text x="363.48" y="188.00" textLength="12.05" lengthAdjust="spacingAndGlyphs">t</text><text x="376.49" y="188.00" textLength="20.05" lengthAdjust="spacingAndGlyphs">e</text><text x="396.87" y="188.00" textLength="14.25" lengthAdjust="spacingAndGlyphs">r</text><text x="410.45" y="188.00" textLength="19.98" lengthAdjust="spacingAndGlyphs">n</text><text x="431.52" y="188.00" textLength="16.97" lengthAdjust="spacingAndGlyphs">a</text><text x="452.24" y="188.00" textLength="7.58" lengthAdjust="spacingAndGlyphs">l</text><text x="471.83" y="188.00" textLength="20.36" lengthAdjust="spacingAndGlyphs">S</text><text x="493.28" y="188.00" textLength="7.58" lengthAdjust="spacingAndGlyphs">l</text><text x="502.01" y="188.00" textLength="20.05" lengthAdjust="spacingAndGlyphs">e</text><text x="522.53" y="188.00" textLength="20.05" lengthAdjust="spacingAndGlyphs">e</text><text x="543.40" y="188.00" textLength="20.19" lengthAdjust="spacingAndGlyphs">p</text><text x="574.82" y="188.00" textLength="22.34" lengthAdjust="spacingAndGlyphs">C</text><text x="598.13" y="188.00" textLength="19.72" lengthAdjust="spacingAndGlyphs">o</text><text x="618.82" y="188.00" textLength="19.98" lengthAdjust="spacingAndGlyphs">n</text><text x="639.64" y="188.00" textLength="20.16" lengthAdjust="spacingAndGlyphs">d</text><text x="661.38" y="188.00" textLength="7.58" lengthAdjust="spacingAndGlyphs">i</text><text x="670.15" y="188.00" textLength="12.05" lengthAdjust="spacingAndGlyphs">t</text><text x="683.72" y="188.00" textLength="7.58" lengthAdjust="spacingAndGlyphs">i</text><text x="692.45" y="188.00" textLength="19.72" lengthAdjust="spacingAndGlyphs">o</text><text x="713.14" y="188.00" textLength="19.98" lengthAdjust="spacingAndGlyphs">n</text></g>
<g font-size="34.68" fill="#1c1c1c" stroke="#1c1c1c" stroke-width="0.25"><text x="200.59" y="268.00" textLength="23.03" lengthAdjust="spacingAndGlyphs">R</text><text x="221.93" y="268.00" textLength="20.05" lengthAdjust="spacingAndGlyphs">e</text><text x="242.98" y="268.00" textLength="7.58" lengthAdjust="spacingAndGlyphs">l</text><text x="251.96" y="268.00" textLength="16.97" lengthAdjust="spacingAndGlyphs">a</text><text x="272.22" y="268.00" textLength="12.05" lengthAdjust="spacingAndGlyphs">t</text><text x="285.79" y="268.00" textLength="7.58" lengthAdjust="spacingAndGlyphs">i</text><text x="294.52" y="268.00" textLength="19.72" lengthAdjust="spacingAndGlyphs">o</text><text x="315.21" y="268.00" textLength="19.98" lengthAdjust="spacingAndGlyphs">n</text><text x="336.65" y="268.00" textLength="15.99" lengthAdjust="spacingAndGlyphs">s</text><text x="353.59" y="268.00" textLength="20.13" lengthAdjust="spacingAndGlyphs">h</text><text x="375.11" y="268.00" textLength="7.58" lengthAdjust="spacingAndGlyphs">i</text><text x="384.17" y="268.00" textLength="20.19" lengthAdjust="spacingAndGlyphs">p</text><text x="416.73" y="268.00" textLength="24.32" lengthAdjust="spacingAndGlyphs">w</text><text x="443.42" y="268.00" textLength="7.58" lengthAdjust="spacingAndGlyphs">i</text><text x="452.19" y="268.00" textLength="12.05" lengthAdjust="spacingAndGlyphs">t</text><text x="465.38" y="268.00" textLength="20.13" lengthAdjust="spacingAndGlyphs">h</text><text x="497.10" y="268.00" textLength="20.36" lengthAdjust="spacingAndGlyphs">P</text><text x="515.79" y="268.00" textLength="16.97" lengthAdjust="spacingAndGlyphs">a</text><text x="535.84" y="268.00" textLength="14.25" lengthAdjust="spacingAndGlyphs">r</text><text x="548.97" y="268.00" textLength="20.05" lengthAdjust="spacingAndGlyphs">e</text><text x="569.79" y="268.00" textLength="19.98" lengthAdjust="spacingAndGlyphs">n</text><text x="590.69" y="268.00" textLength="12.05" lengthAdjust="spacingAndGlyphs">t</text><text x="604.32" y="268.00" textLength="15.99" lengthAdjust="spacingAndGlyphs">s</text><text x="620.77" y="268.00" textLength="12.01" lengthAdjust="spacingAndGlyphs">-</text><text x="633.67" y="268.00" textLength="7.58" lengthAdjust="spacingAndGlyphs">i</text><text x="642.68" y="268.00" textLength="19.98" lengthAdjust="spacingAndGlyphs">n</text><text x="663.20" y="268.00" textLength="12.01" lengthAdjust="spacingAndGlyphs">-</text><text x="676.07" y="268.00" textLength="7.58" lengthAdjust="spacingAndGlyphs">l</text><text x="685.05" y="268.00" textLength="16.97" lengthAdjust="spacingAndGlyphs">a</text><text x="706.39" y="268.00" textLength="24.32" lengthAdjust="spacingAndGlyphs">w</text></g>
<g font-size="34.68" fill="#1c1c1c" stroke="#1c1c1c" stroke-width="0.25"><text x="349.33" y="348.00" textLength="19.09" lengthAdjust="spacingAndGlyphs">L</text><text x="367.19" y="348.00" textLength="20.05" lengthAdjust="spacingAndGlyphs">e</text><text x="388.25" y="348.00" textLength="17.99" lengthAdjust="spacingAndGlyphs">v</text><text x="407.44" y="348.00" textLength="20.05" lengthAdjust="spacingAndGlyphs">e</text><text x="428.49" y="348.00" textLength="7.58" lengthAdjust="spacingAndGlyphs">l</text><text x="447.85" y="348.00" textLength="19.72" lengthAdjust="spacingAndGlyphs">o</text><text x="468.11" y="348.00" textLength="12.05" lengthAdjust="spacingAndGlyphs">f</text><text x="490.83" y="348.00" textLength="20.36" lengthAdjust="spacingAndGlyphs">S</text><text x="511.77" y="348.00" textLength="19.72" lengthAdjust="spacingAndGlyphs">o</text><text x="532.26" y="348.00" textLength="16.71" lengthAdjust="spacingAndGlyphs">c</text><text x="551.05" y="348.00" textLength="7.58" lengthAdjust="spacingAndGlyphs">i</text><text x="559.99" y="348.00" textLength="16.97" lengthAdjust="spacingAndGlyphs">a</text><text x="580.72" y="348.00" textLength="7.58" lengthAdjust="spacingAndGlyphs">l</text><text x="600.31" y="348.00" textLength="20.36" lengthAdjust="spacingAndGlyphs">S</text><text x="621.40" y="348.00" textLength="19.98" lengthAdjust="spacingAndGlyphs">u</text><text x="642.72" y="348.00" textLength="20.19" lengthAdjust="spacingAndGlyphs">p</text><text x="663.89" y="348.00" textLength="20.19" lengthAdjust="spacingAndGlyphs">p</text><text x="684.72" y="348.00" textLength="19.72" lengthAdjust="spacingAndGlyphs">o</text><text x="704.96" y="348.00" textLength="14.25" lengthAdjust="spacingAndGlyphs">r</text><text x="718.88" y="348.00" textLength="12.05" lengthAdjust="spacingAndGlyphs">t</text></g>
<g font-size="34.68" fill="#1c1c1c" stroke="#1c1c1c" stroke-width="0.25"><text x="133.70" y="428.00" textLength="31.04" lengthAdjust="spacingAndGlyphs">W</text><text x="164.10" y="428.00" textLength="19.72" lengthAdjust="spacingAndGlyphs">o</text><text x="184.34" y="428.00" textLength="14.25" lengthAdjust="spacingAndGlyphs">r</text><text x="198.37" y="428.00" textLength="18.67" lengthAdjust="spacingAndGlyphs">k</text><text x="228.36" y="428.00" textLength="20.36" lengthAdjust="spacingAndGlyphs">S</text><text x="249.34" y="428.00" textLength="12.05" lengthAdjust="spacingAndGlyphs">t</text><text x="262.21" y="428.00" textLength="14.25" lengthAdjust="spacingAndGlyphs">r</text><text x="275.33" y="428.00" textLength="20.05" lengthAdjust="spacingAndGlyphs">e</text><text x="296.47" y="428.00" textLength="15.99" lengthAdjust="spacingAndGlyphs">s</text><text x="313.84" y="428.00" textLength="15.99" lengthAdjust="spacingAndGlyphs">s</text><text x="341.32" y="428.00" textLength="24.90" lengthAdjust="spacingAndGlyphs">D</text><text x="367.06" y="428.00" textLength="19.98" lengthAdjust="spacingAndGlyphs">u</text><text x="387.88" y="428.00" textLength="14.25" lengthAdjust="spacingAndGlyphs">r</text><text x="402.29" y="428.00" textLength="7.58" lengthAdjust="spacingAndGlyphs">i</text><text x="411.30" y="428.00" textLength="19.98" lengthAdjust="spacingAndGlyphs">n</text><text x="432.12" y="428.00" textLength="20.16" lengthAdjust="spacingAndGlyphs">g</text><text x="464.12" y="428.00" textLength="27.74" lengthAdjust="spacingAndGlyphs">M</text><text x="492.92" y="428.00" textLength="16.97" lengthAdjust="spacingAndGlyphs">a</text><text x="513.18" y="428.00" textLength="12.05" lengthAdjust="spacingAndGlyphs">t</text><text x="526.19" y="428.00" textLength="20.05" lengthAdjust="spacingAndGlyphs">e</text><text x="546.57" y="428.00" textLength="14.25" lengthAdjust="spacingAndGlyphs">r</text><text x="560.14" y="428.00" textLength="19.98" lengthAdjust="spacingAndGlyphs">n</text><text x="581.53" y="428.00" textLength="7.58" lengthAdjust="spacingAndGlyphs">i</text><text x="590.30" y="428.00" textLength="12.05" lengthAdjust="spacingAndGlyphs">t</text><text x="603.89" y="428.00" textLength="17.92" lengthAdjust="spacingAndGlyphs">y</text><text x="633.78" y="428.00" textLength="19.09" lengthAdjust="spacingAndGlyphs">L</text><text x="651.64" y="428.00" textLength="20.05" lengthAdjust="spacingAndGlyphs">e</text><text x="672.40" y="428.00" textLength="16.97" lengthAdjust="spacingAndGlyphs">a</text><text x="693.14" y="428.00" textLength="17.99" lengthAdjust="spacingAndGlyphs">v</text><text x="712.33" y="428.00" textLength="20.05" lengthAdjust="spacingAndGlyphs">e</text></g>
<g font-size="34.68" fill="#1c1c1c" stroke="#1c1c1c" stroke-width="0.25"><text x="37.94" y="508.00" textLength="22.34" lengthAdjust="spacingAndGlyphs">C</text><text x="61.47" y="508.00" textLength="16.97" lengthAdjust="spacingAndGlyphs">a</text><text x="81.97" y="508.00" textLength="19.98" lengthAdjust="spacingAndGlyphs">n</text><text x="113.47" y="508.00" textLength="12.05" lengthAdjust="spacingAndGlyphs">t</text><text x="126.66" y="508.00" textLength="20.13" lengthAdjust="spacingAndGlyphs">h</text><text x="147.62" y="508.00" textLength="20.05" lengthAdjust="spacingAndGlyphs">e</text><text x="178.96" y="508.00" textLength="23.96" lengthAdjust="spacingAndGlyphs">H</text><text x="203.99" y="508.00" textLength="19.98" lengthAdjust="spacingAndGlyphs">u</text><text x="225.57" y="508.00" textLength="15.99" lengthAdjust="spacingAndGlyphs">s</text><text x="242.68" y="508.00" textLength="20.19" lengthAdjust="spacingAndGlyphs">b</text><text x="263.74" y="508.00" textLength="16.97" lengthAdjust="spacingAndGlyphs">a</text><text x="284.24" y="508.00" textLength="19.98" lengthAdjust="spacingAndGlyphs">n</text><text x="305.06" y="508.00" textLength="20.16" lengthAdjust="spacingAndGlyphs">d</text><text x="337.00" y="508.00" textLength="20.36" lengthAdjust="spacingAndGlyphs">P</text><text x="356.22" y="508.00" textLength="14.25" lengthAdjust="spacingAndGlyphs">r</text><text x="369.37" y="508.00" textLength="19.72" lengthAdjust="spacingAndGlyphs">o</text><text x="390.29" y="508.00" textLength="17.99" lengthAdjust="spacingAndGlyphs">v</text><text x="410.05" y="508.00" textLength="7.58" lengthAdjust="spacingAndGlyphs">i</text><text x="418.74" y="508.00" textLength="20.16" lengthAdjust="spacingAndGlyphs">d</text><text x="439.92" y="508.00" textLength="20.05" lengthAdjust="spacingAndGlyphs">e</text><text x="471.29" y="508.00" textLength="20.36" lengthAdjust="spacingAndGlyphs">S</text><text x="492.39" y="508.00" textLength="19.98" lengthAdjust="spacingAndGlyphs">u</text><text x="513.22" y="508.00" textLength="12.05" lengthAdjust="spacingAndGlyphs">f</text><text x="524.46" y="508.00" textLength="12.05" lengthAdjust="spacingAndGlyphs">f</text><text x="536.88" y="508.00" textLength="7.58" lengthAdjust="spacingAndGlyphs">i</text><text x="545.70" y="508.00" textLength="16.71" lengthAdjust="spacingAndGlyphs">c</text><text x="564.49" y="508.00" textLength="7.58" lengthAdjust="spacingAndGlyphs">i</text><text x="573.19" y="508.00" textLength="20.05" lengthAdjust="spacingAndGlyphs">e</text><text x="594.02" y="508.00" textLength="19.98" lengthAdjust="spacingAndGlyphs">n</text><text x="614.91" y="508.00" textLength="12.05" lengthAdjust="spacingAndGlyphs">t</text><text x="638.52" y="508.00" textLength="22.34" lengthAdjust="spacingAndGlyphs">C</text><text x="662.05" y="508.00" textLength="16.97" lengthAdjust="spacingAndGlyphs">a</text><text x="682.10" y="508.00" textLength="14.25" lengthAdjust="spacingAndGlyphs">r</text><text x="695.22" y="508.00" textLength="20.05" lengthAdjust="spacingAndGlyphs">e</text><text x="715.73" y="508.00" textLength="16.97" lengthAdjust="spacingAndGlyphs">?</text></g>
<g font-size="34.68" fill="#1c1c1c" stroke="#1c1c1c" stroke-width="0.25"><text x="276.72" y="587.00" textLength="20.36" lengthAdjust="spacingAndGlyphs">P</text><text x="295.51" y="587.00" textLength="19.72" lengthAdjust="spacingAndGlyphs">o</text><text x="316.50" y="587.00" textLength="15.99" lengthAdjust="spacingAndGlyphs">s</text><text x="333.33" y="587.00" textLength="12.05" lengthAdjust="spacingAndGlyphs">t</text><text x="346.70" y="587.00" textLength="20.19" lengthAdjust="spacingAndGlyphs">p</text><text x="367.75" y="587.00" textLength="16.97" lengthAdjust="spacingAndGlyphs">a</text><text x="387.80" y="587.00" textLength="14.25" lengthAdjust="spacingAndGlyphs">r</text><text x="401.72" y="587.00" textLength="12.05" lengthAdjust="spacingAndGlyphs">t</text><text x="414.91" y="587.00" textLength="19.98" lengthAdjust="spacingAndGlyphs">u</text><text x="436.04" y="587.00" textLength="31.66" lengthAdjust="spacingAndGlyphs">m</text><text x="479.29" y="587.00" textLength="23.03" lengthAdjust="spacingAndGlyphs">R</text><text x="500.63" y="587.00" textLength="20.05" lengthAdjust="spacingAndGlyphs">e</text><text x="521.26" y="587.00" textLength="16.71" lengthAdjust="spacingAndGlyphs">c</text><text x="539.51" y="587.00" textLength="19.72" lengthAdjust="spacingAndGlyphs">o</text><text x="560.43" y="587.00" textLength="17.99" lengthAdjust="spacingAndGlyphs">v</text><text x="579.63" y="587.00" textLength="20.05" lengthAdjust="spacingAndGlyphs">e</text><text x="600.00" y="587.00" textLength="14.25" lengthAdjust="spacingAndGlyphs">r</text><text x="614.43" y="587.00" textLength="17.92" lengthAdjust="spacingAndGlyphs">y</text><text x="644.36" y="587.00" textLength="20.36" lengthAdjust="spacingAndGlyphs">P</text><text x="664.83" y="587.00" textLength="7.58" lengthAdjust="spacingAndGlyphs">l</text><text x="673.81" y="587.00" textLength="16.97" lengthAdjust="spacingAndGlyphs">a</text><text x="694.12" y="587.00" textLength="16.71" lengthAdjust="spacingAndGlyphs">c</text><text x="712.34" y="587.00" textLength="20.05" lengthAdjust="spacingAndGlyphs">e</text></g>
<g font-size="34.68" fill="#000" stroke="#000" stroke-width="0.3"><text x="730.31" y="735.50" textLength="20.36" lengthAdjust="spacingAndGlyphs">S</text><text x="751.45" y="735.50" textLength="23.96" lengthAdjust="spacingAndGlyphs">H</text><text x="776.15" y="735.50" textLength="22.45" lengthAdjust="spacingAndGlyphs">A</text><text x="799.28" y="735.50" textLength="20.36" lengthAdjust="spacingAndGlyphs">P</text><text x="830.36" y="735.50" textLength="17.99" lengthAdjust="spacingAndGlyphs">v</text><text x="849.81" y="735.50" textLength="16.97" lengthAdjust="spacingAndGlyphs">a</text><text x="870.53" y="735.50" textLength="7.58" lengthAdjust="spacingAndGlyphs">l</text><text x="879.45" y="735.50" textLength="19.98" lengthAdjust="spacingAndGlyphs">u</text><text x="900.40" y="735.50" textLength="20.05" lengthAdjust="spacingAndGlyphs">e</text><text x="931.84" y="735.50" textLength="10.16" lengthAdjust="spacingAndGlyphs">(</text><text x="945.10" y="735.50" textLength="7.58" lengthAdjust="spacingAndGlyphs">i</text><text x="953.97" y="735.50" textLength="31.66" lengthAdjust="spacingAndGlyphs">m</text><text x="986.64" y="735.50" textLength="20.19" lengthAdjust="spacingAndGlyphs">p</text><text x="1007.70" y="735.50" textLength="16.97" lengthAdjust="spacingAndGlyphs">a</text><text x="1028.00" y="735.50" textLength="16.71" lengthAdjust="spacingAndGlyphs">c</text><text x="1046.29" y="735.50" textLength="12.05" lengthAdjust="spacingAndGlyphs">t</text><text x="1069.93" y="735.50" textLength="19.72" lengthAdjust="spacingAndGlyphs">o</text><text x="1090.62" y="735.50" textLength="19.98" lengthAdjust="spacingAndGlyphs">n</text><text x="1122.22" y="735.50" textLength="31.66" lengthAdjust="spacingAndGlyphs">m</text><text x="1154.56" y="735.50" textLength="19.72" lengthAdjust="spacingAndGlyphs">o</text><text x="1174.93" y="735.50" textLength="20.16" lengthAdjust="spacingAndGlyphs">d</text><text x="1196.11" y="735.50" textLength="20.05" lengthAdjust="spacingAndGlyphs">e</text><text x="1217.16" y="735.50" textLength="7.58" lengthAdjust="spacingAndGlyphs">l</text><text x="1236.52" y="735.50" textLength="19.72" lengthAdjust="spacingAndGlyphs">o</text><text x="1257.08" y="735.50" textLength="19.98" lengthAdjust="spacingAndGlyphs">u</text><text x="1278.10" y="735.50" textLength="12.05" lengthAdjust="spacingAndGlyphs">t</text><text x="1291.47" y="735.50" textLength="20.19" lengthAdjust="spacingAndGlyphs">p</text><text x="1312.46" y="735.50" textLength="19.98" lengthAdjust="spacingAndGlyphs">u</text><text x="1333.48" y="735.50" textLength="12.05" lengthAdjust="spacingAndGlyphs">t</text><text x="1348.38" y="735.50" textLength="10.16" lengthAdjust="spacingAndGlyphs">)</text></g>
<g font-size="29.33" fill="#111" stroke="#111" stroke-width="0.35"><text x="819.36" y="693.40" textLength="21.20" lengthAdjust="spacingAndGlyphs">−</text><text x="842.48" y="693.40" textLength="16.53" lengthAdjust="spacingAndGlyphs">0</text><text x="859.96" y="693.40" textLength="8.49" lengthAdjust="spacingAndGlyphs">.</text><text x="869.34" y="693.40" textLength="15.96" lengthAdjust="spacingAndGlyphs">2</text></g>
<g font-size="29.33" fill="#111" stroke="#111" stroke-width="0.35"><text x="967.57" y="693.40" textLength="16.53" lengthAdjust="spacingAndGlyphs">0</text><text x="985.05" y="693.40" textLength="8.49" lengthAdjust="spacingAndGlyphs">.</text><text x="994.47" y="693.40" textLength="16.53" lengthAdjust="spacingAndGlyphs">0</text></g>
<g font-size="29.33" fill="#111" stroke="#111" stroke-width="0.35"><text x="1105.43" y="693.40" textLength="16.53" lengthAdjust="spacingAndGlyphs">0</text><text x="1122.91" y="693.40" textLength="8.49" lengthAdjust="spacingAndGlyphs">.</text><text x="1132.29" y="693.40" textLength="15.96" lengthAdjust="spacingAndGlyphs">2</text></g>
<g font-size="29.33" fill="#111" stroke="#111" stroke-width="0.35"><text x="1242.21" y="693.40" textLength="16.53" lengthAdjust="spacingAndGlyphs">0</text><text x="1259.69" y="693.40" textLength="8.49" lengthAdjust="spacingAndGlyphs">.</text><text x="1269.14" y="693.40" textLength="16.55" lengthAdjust="spacingAndGlyphs">4</text></g>
<g font-size="29.33" fill="#000" stroke="#000" stroke-width="0.3"><text x="1346.60" y="26.00" textLength="20.26" lengthAdjust="spacingAndGlyphs">H</text><text x="1368.09" y="26.00" textLength="6.41" lengthAdjust="spacingAndGlyphs">i</text><text x="1375.44" y="26.00" textLength="17.04" lengthAdjust="spacingAndGlyphs">g</text><text x="1393.50" y="26.00" textLength="17.02" lengthAdjust="spacingAndGlyphs">h</text></g>
<g font-size="29.33" fill="#000" stroke="#000" stroke-width="0.3"><text x="1345.92" y="665.60" textLength="16.15" lengthAdjust="spacingAndGlyphs">L</text><text x="1361.04" y="665.60" textLength="16.68" lengthAdjust="spacingAndGlyphs">o</text><text x="1379.25" y="665.60" textLength="20.56" lengthAdjust="spacingAndGlyphs">w</text></g>
<g transform="translate(1434.9,438.7) rotate(-90)"><g font-size="32.03" fill="#000" stroke="#000" stroke-width="0.3"><text x="-2.74" y="0.00" textLength="17.22" lengthAdjust="spacingAndGlyphs">F</text><text x="13.31" y="0.00" textLength="18.51" lengthAdjust="spacingAndGlyphs">e</text><text x="32.48" y="0.00" textLength="15.68" lengthAdjust="spacingAndGlyphs">a</text><text x="51.19" y="0.00" textLength="11.12" lengthAdjust="spacingAndGlyphs">t</text><text x="63.38" y="0.00" textLength="18.46" lengthAdjust="spacingAndGlyphs">u</text><text x="82.60" y="0.00" textLength="13.16" lengthAdjust="spacingAndGlyphs">r</text><text x="94.72" y="0.00" textLength="18.51" lengthAdjust="spacingAndGlyphs">e</text><text x="123.95" y="0.00" textLength="16.62" lengthAdjust="spacingAndGlyphs">v</text><text x="141.91" y="0.00" textLength="15.68" lengthAdjust="spacingAndGlyphs">a</text><text x="161.05" y="0.00" textLength="7.00" lengthAdjust="spacingAndGlyphs">l</text><text x="169.28" y="0.00" textLength="18.46" lengthAdjust="spacingAndGlyphs">u</text><text x="188.64" y="0.00" textLength="18.51" lengthAdjust="spacingAndGlyphs">e</text></g></g>
</g>
</svg>
</body></html>
